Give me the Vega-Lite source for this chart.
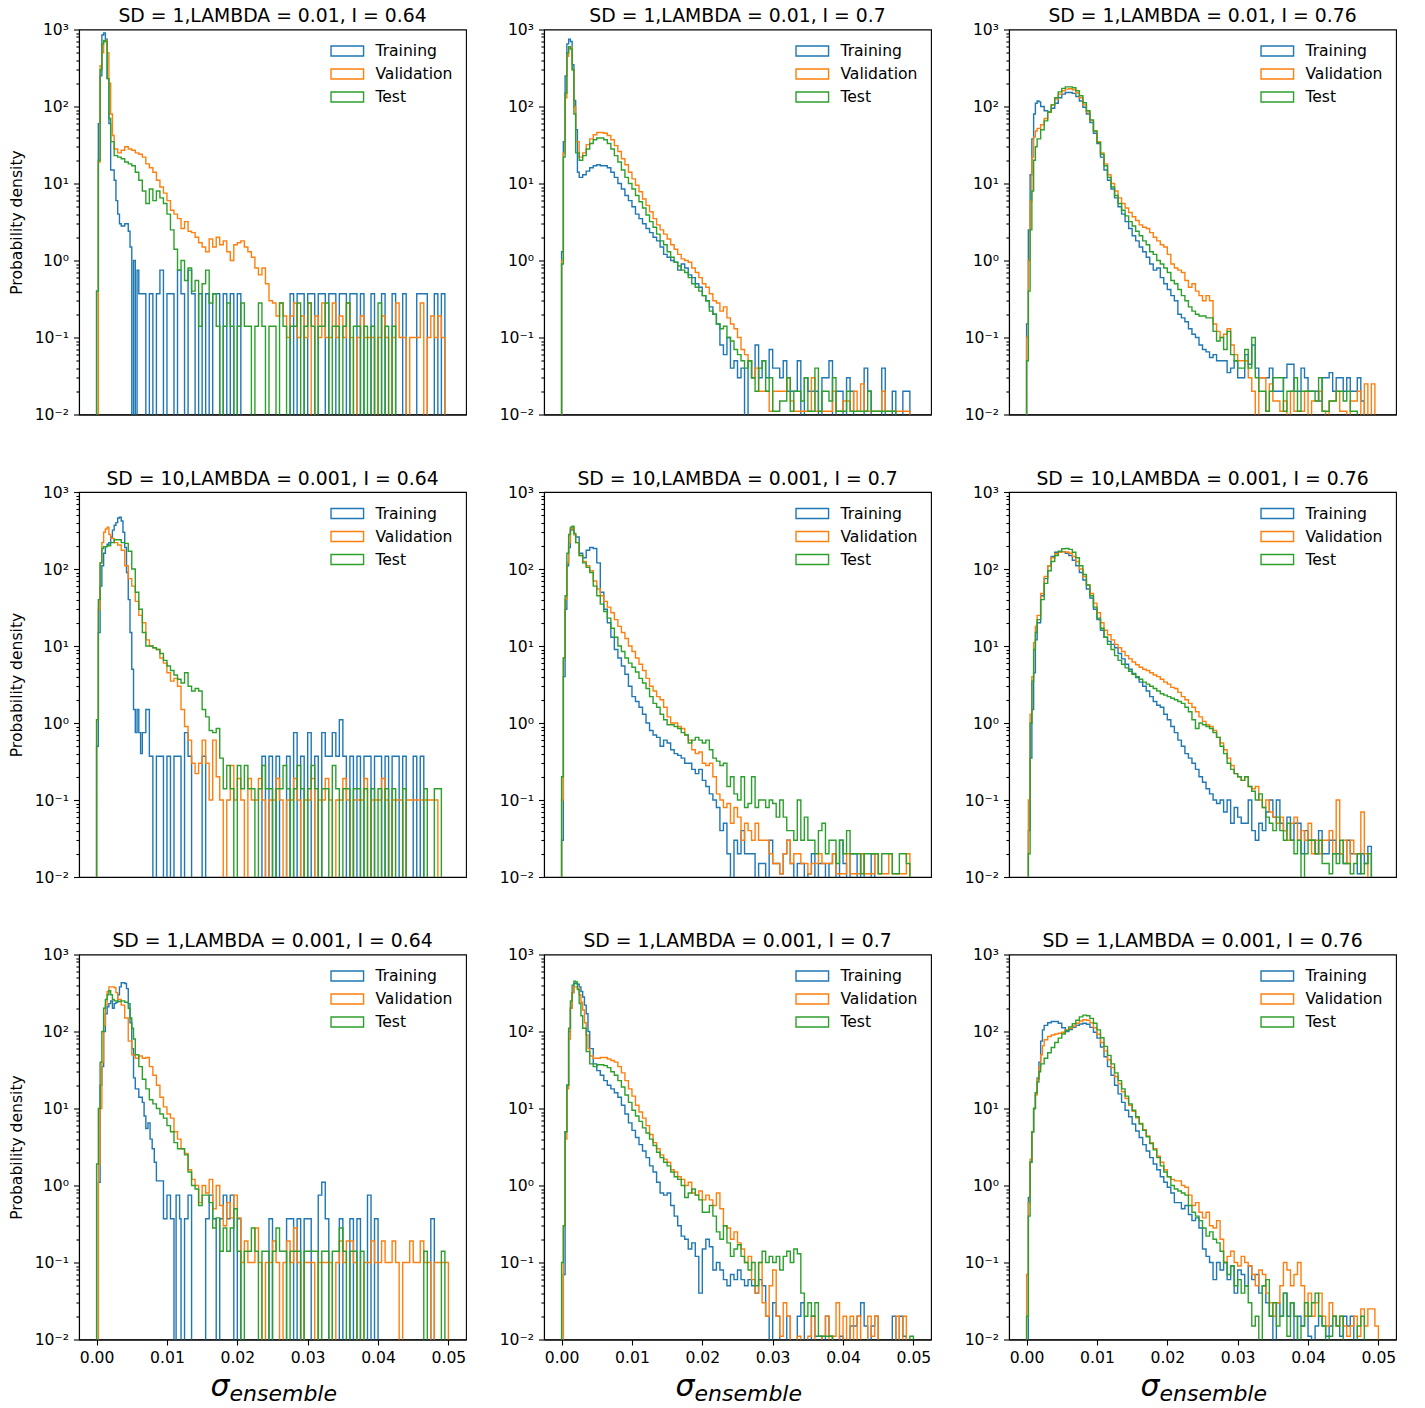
{
"$schema":"https://vega.github.io/schema/vega-lite/v6.json",
"padding":{"left":8,"top":6.5,"right":5,"bottom":5},
"columns":3,
"bounds":"flush",
"spacing":{"row":77.5,"column":78},
"resolve":{"scale":{"color":"independent","x":"independent","y":"independent"},"axis":{"x":"independent","y":"independent"},"legend":{"color":"independent"}},
"config":{
"font":"DejaVu Sans",
"view":{"stroke":"#000","strokeWidth":1.1},
"axis":{"grid":false,"domainColor":"#000","domainWidth":1.1,"tickColor":"#000","tickWidth":1.1,"labelColor":"#000","titleColor":"#000","labelFontSize":15.6,"titleFontSize":15.6,"titleFontWeight":"normal","labelFont":"DejaVu Sans","titleFont":"DejaVu Sans"},
"axisX":{"tickSize":5.5,"labelPadding":5},
"axisY":{"values":[0.01,0.02,0.03,0.04,0.05,0.06,0.07,0.08,0.09,0.1,0.2,0.3,0.4,0.5,0.6,0.7,0.8,0.9,1,2,3,4,5,6,7,8,9,10,20,30,40,50,60,70,80,90,100,200,300,400,500,600,700,800,900,1000],"labelExpr":"datum.value==1000?'10³':datum.value==100?'10²':datum.value==10?'10¹':datum.value==1?'10⁰':datum.value==0.1?'10⁻¹':datum.value==0.01?'10⁻²':''","tickSize":{"condition":{"test":"indexof([0.01,0.1,1,10,100,1000],datum.value)>=0","value":5.5},"value":3.1},"labelOverlap":false,"labelPadding":5,"titlePadding":10},
"title":{"fontSize":18.8,"fontWeight":"normal","offset":-3.5,"frame":"group","baseline":"alphabetic","color":"#000","font":"DejaVu Sans"},
"line":{"interpolate":"step-after","strokeWidth":1.4},
"legend":{"orient":"top-right","offset":13,"padding":0,"labelFontSize":15.6,"labelColor":"#000","labelFont":"DejaVu Sans","symbolSize":225,"symbolStrokeWidth":1.5,"symbolFillColor":"transparent","symbolOffset":19.8,"labelOffset":19.6,"rowPadding":5,"labelLimit":0}
},
"concat":[
{"title":"SD = 1,LAMBDA = 0.01, I = 0.64","width":387,"height":385,
"encoding":{"x":{"field":"x","type":"quantitative","scale":{"domain":[-0.0025,0.0525],"nice":false,"zero":false},"axis":{"labels":false,"ticks":false,"title":null}},"y":{"field":"y","type":"quantitative","scale":{"type":"log","domain":[0.01,1000],"nice":false},"axis":{"title":"Probability density"}}},
"layer":[
{"data":{"name":"d1t"},"mark":{"type":"line","clip":true},"encoding":{"color":{"datum":"Training","type":"nominal","scale":{"domain":["Training","Validation","Test"],"range":["#1f77b4","#ff7f0e","#2ca02c"]},"legend":{"title":null,"symbolType":"M-2.17,-0.67L2.17,-0.67L2.17,0.67L-2.17,0.67Z"}}}},
{"data":{"name":"d1v"},"mark":{"type":"line","clip":true},"encoding":{"color":{"datum":"Validation","type":"nominal"}}},
{"data":{"name":"d1e"},"mark":{"type":"line","clip":true},"encoding":{"color":{"datum":"Test","type":"nominal"}}}]},
{"title":"SD = 1,LAMBDA = 0.01, I = 0.7","width":387,"height":385,
"encoding":{"x":{"field":"x","type":"quantitative","scale":{"domain":[-0.0025,0.0525],"nice":false,"zero":false},"axis":{"labels":false,"ticks":false,"title":null}},"y":{"field":"y","type":"quantitative","scale":{"type":"log","domain":[0.01,1000],"nice":false},"axis":{"title":null}}},
"layer":[
{"data":{"name":"d2t"},"mark":{"type":"line","clip":true},"encoding":{"color":{"datum":"Training","type":"nominal","scale":{"domain":["Training","Validation","Test"],"range":["#1f77b4","#ff7f0e","#2ca02c"]},"legend":{"title":null,"symbolType":"M-2.17,-0.67L2.17,-0.67L2.17,0.67L-2.17,0.67Z"}}}},
{"data":{"name":"d2v"},"mark":{"type":"line","clip":true},"encoding":{"color":{"datum":"Validation","type":"nominal"}}},
{"data":{"name":"d2e"},"mark":{"type":"line","clip":true},"encoding":{"color":{"datum":"Test","type":"nominal"}}}]},
{"title":"SD = 1,LAMBDA = 0.01, I = 0.76","width":387,"height":385,
"encoding":{"x":{"field":"x","type":"quantitative","scale":{"domain":[-0.0025,0.0525],"nice":false,"zero":false},"axis":{"labels":false,"ticks":false,"title":null}},"y":{"field":"y","type":"quantitative","scale":{"type":"log","domain":[0.01,1000],"nice":false},"axis":{"title":null}}},
"layer":[
{"data":{"name":"d3t"},"mark":{"type":"line","clip":true},"encoding":{"color":{"datum":"Training","type":"nominal","scale":{"domain":["Training","Validation","Test"],"range":["#1f77b4","#ff7f0e","#2ca02c"]},"legend":{"title":null,"symbolType":"M-2.17,-0.67L2.17,-0.67L2.17,0.67L-2.17,0.67Z"}}}},
{"data":{"name":"d3v"},"mark":{"type":"line","clip":true},"encoding":{"color":{"datum":"Validation","type":"nominal"}}},
{"data":{"name":"d3e"},"mark":{"type":"line","clip":true},"encoding":{"color":{"datum":"Test","type":"nominal"}}}]},
{"title":"SD = 10,LAMBDA = 0.001, I = 0.64","width":387,"height":385,
"encoding":{"x":{"field":"x","type":"quantitative","scale":{"domain":[-0.0025,0.0525],"nice":false,"zero":false},"axis":{"labels":false,"ticks":false,"title":null}},"y":{"field":"y","type":"quantitative","scale":{"type":"log","domain":[0.01,1000],"nice":false},"axis":{"title":"Probability density"}}},
"layer":[
{"data":{"name":"d4t"},"mark":{"type":"line","clip":true},"encoding":{"color":{"datum":"Training","type":"nominal","scale":{"domain":["Training","Validation","Test"],"range":["#1f77b4","#ff7f0e","#2ca02c"]},"legend":{"title":null,"symbolType":"M-2.17,-0.67L2.17,-0.67L2.17,0.67L-2.17,0.67Z"}}}},
{"data":{"name":"d4v"},"mark":{"type":"line","clip":true},"encoding":{"color":{"datum":"Validation","type":"nominal"}}},
{"data":{"name":"d4e"},"mark":{"type":"line","clip":true},"encoding":{"color":{"datum":"Test","type":"nominal"}}}]},
{"title":"SD = 10,LAMBDA = 0.001, I = 0.7","width":387,"height":385,
"encoding":{"x":{"field":"x","type":"quantitative","scale":{"domain":[-0.0025,0.0525],"nice":false,"zero":false},"axis":{"labels":false,"ticks":false,"title":null}},"y":{"field":"y","type":"quantitative","scale":{"type":"log","domain":[0.01,1000],"nice":false},"axis":{"title":null}}},
"layer":[
{"data":{"name":"d5t"},"mark":{"type":"line","clip":true},"encoding":{"color":{"datum":"Training","type":"nominal","scale":{"domain":["Training","Validation","Test"],"range":["#1f77b4","#ff7f0e","#2ca02c"]},"legend":{"title":null,"symbolType":"M-2.17,-0.67L2.17,-0.67L2.17,0.67L-2.17,0.67Z"}}}},
{"data":{"name":"d5v"},"mark":{"type":"line","clip":true},"encoding":{"color":{"datum":"Validation","type":"nominal"}}},
{"data":{"name":"d5e"},"mark":{"type":"line","clip":true},"encoding":{"color":{"datum":"Test","type":"nominal"}}}]},
{"title":"SD = 10,LAMBDA = 0.001, I = 0.76","width":387,"height":385,
"encoding":{"x":{"field":"x","type":"quantitative","scale":{"domain":[-0.0025,0.0525],"nice":false,"zero":false},"axis":{"labels":false,"ticks":false,"title":null}},"y":{"field":"y","type":"quantitative","scale":{"type":"log","domain":[0.01,1000],"nice":false},"axis":{"title":null}}},
"layer":[
{"data":{"name":"d6t"},"mark":{"type":"line","clip":true},"encoding":{"color":{"datum":"Training","type":"nominal","scale":{"domain":["Training","Validation","Test"],"range":["#1f77b4","#ff7f0e","#2ca02c"]},"legend":{"title":null,"symbolType":"M-2.17,-0.67L2.17,-0.67L2.17,0.67L-2.17,0.67Z"}}}},
{"data":{"name":"d6v"},"mark":{"type":"line","clip":true},"encoding":{"color":{"datum":"Validation","type":"nominal"}}},
{"data":{"name":"d6e"},"mark":{"type":"line","clip":true},"encoding":{"color":{"datum":"Test","type":"nominal"}}}]},
{"title":"SD = 1,LAMBDA = 0.001, I = 0.64","width":387,"height":385,
"resolve":{"scale":{"x":"independent"},"axis":{"x":"independent"}},
"layer":[
{"encoding":{"x":{"field":"x","type":"quantitative","scale":{"domain":[-0.0025,0.0525],"nice":false,"zero":false},"axis":{"values":[0,0.01,0.02,0.03,0.04,0.05],"format":".2f","title":"σ","titleFontSize":30,"titleFontStyle":"italic","titleAlign":"left","titleBaseline":"alphabetic","titleAngle":0,"titleX":131,"titleY":56}},"y":{"field":"y","type":"quantitative","scale":{"type":"log","domain":[0.01,1000],"nice":false},"axis":{"title":"Probability density"}}},
"layer":[
{"data":{"name":"d7t"},"mark":{"type":"line","clip":true},"encoding":{"color":{"datum":"Training","type":"nominal","scale":{"domain":["Training","Validation","Test"],"range":["#1f77b4","#ff7f0e","#2ca02c"]},"legend":{"title":null,"symbolType":"M-2.17,-0.67L2.17,-0.67L2.17,0.67L-2.17,0.67Z"}}}},
{"data":{"name":"d7v"},"mark":{"type":"line","clip":true},"encoding":{"color":{"datum":"Validation","type":"nominal"}}},
{"data":{"name":"d7e"},"mark":{"type":"line","clip":true},"encoding":{"color":{"datum":"Test","type":"nominal"}}}]},
{"data":{"values":[{}]},"mark":{"type":"rule","opacity":0},"encoding":{"x":{"datum":0,"type":"quantitative","scale":{"domain":[-0.0025,0.0525],"nice":false,"zero":false},"axis":{"orient":"bottom","labels":false,"ticks":false,"domain":false,"title":"ensemble","titleFontSize":22,"titleFontStyle":"italic","titleAlign":"left","titleBaseline":"alphabetic","titleAngle":0,"titleX":150,"titleY":61}}}}]},
{"title":"SD = 1,LAMBDA = 0.001, I = 0.7","width":387,"height":385,
"resolve":{"scale":{"x":"independent"},"axis":{"x":"independent"}},
"layer":[
{"encoding":{"x":{"field":"x","type":"quantitative","scale":{"domain":[-0.0025,0.0525],"nice":false,"zero":false},"axis":{"values":[0,0.01,0.02,0.03,0.04,0.05],"format":".2f","title":"σ","titleFontSize":30,"titleFontStyle":"italic","titleAlign":"left","titleBaseline":"alphabetic","titleAngle":0,"titleX":131,"titleY":56}},"y":{"field":"y","type":"quantitative","scale":{"type":"log","domain":[0.01,1000],"nice":false},"axis":{"title":null}}},
"layer":[
{"data":{"name":"d8t"},"mark":{"type":"line","clip":true},"encoding":{"color":{"datum":"Training","type":"nominal","scale":{"domain":["Training","Validation","Test"],"range":["#1f77b4","#ff7f0e","#2ca02c"]},"legend":{"title":null,"symbolType":"M-2.17,-0.67L2.17,-0.67L2.17,0.67L-2.17,0.67Z"}}}},
{"data":{"name":"d8v"},"mark":{"type":"line","clip":true},"encoding":{"color":{"datum":"Validation","type":"nominal"}}},
{"data":{"name":"d8e"},"mark":{"type":"line","clip":true},"encoding":{"color":{"datum":"Test","type":"nominal"}}}]},
{"data":{"values":[{}]},"mark":{"type":"rule","opacity":0},"encoding":{"x":{"datum":0,"type":"quantitative","scale":{"domain":[-0.0025,0.0525],"nice":false,"zero":false},"axis":{"orient":"bottom","labels":false,"ticks":false,"domain":false,"title":"ensemble","titleFontSize":22,"titleFontStyle":"italic","titleAlign":"left","titleBaseline":"alphabetic","titleAngle":0,"titleX":150,"titleY":61}}}}]},
{"title":"SD = 1,LAMBDA = 0.001, I = 0.76","width":387,"height":385,
"resolve":{"scale":{"x":"independent"},"axis":{"x":"independent"}},
"layer":[
{"encoding":{"x":{"field":"x","type":"quantitative","scale":{"domain":[-0.0025,0.0525],"nice":false,"zero":false},"axis":{"values":[0,0.01,0.02,0.03,0.04,0.05],"format":".2f","title":"σ","titleFontSize":30,"titleFontStyle":"italic","titleAlign":"left","titleBaseline":"alphabetic","titleAngle":0,"titleX":131,"titleY":56}},"y":{"field":"y","type":"quantitative","scale":{"type":"log","domain":[0.01,1000],"nice":false},"axis":{"title":null}}},
"layer":[
{"data":{"name":"d9t"},"mark":{"type":"line","clip":true},"encoding":{"color":{"datum":"Training","type":"nominal","scale":{"domain":["Training","Validation","Test"],"range":["#1f77b4","#ff7f0e","#2ca02c"]},"legend":{"title":null,"symbolType":"M-2.17,-0.67L2.17,-0.67L2.17,0.67L-2.17,0.67Z"}}}},
{"data":{"name":"d9v"},"mark":{"type":"line","clip":true},"encoding":{"color":{"datum":"Validation","type":"nominal"}}},
{"data":{"name":"d9e"},"mark":{"type":"line","clip":true},"encoding":{"color":{"datum":"Test","type":"nominal"}}}]},
{"data":{"values":[{}]},"mark":{"type":"rule","opacity":0},"encoding":{"x":{"datum":0,"type":"quantitative","scale":{"domain":[-0.0025,0.0525],"nice":false,"zero":false},"axis":{"orient":"bottom","labels":false,"ticks":false,"domain":false,"title":"ensemble","titleFontSize":22,"titleFontStyle":"italic","titleAlign":"left","titleBaseline":"alphabetic","titleAngle":0,"titleX":150,"titleY":61}}}}]}
],
"datasets":{
"d1t":[{"x":-0.00025,"y":0.001},{"x":0,"y":0.4},{"x":0.00025,"y":60},{"x":0.0005,"y":250},{"x":0.00075,"y":850},{"x":0.001,"y":900},{"x":0.00125,"y":750},{"x":0.0015,"y":230},{"x":0.00175,"y":60},{"x":0.002,"y":15},{"x":0.0025,"y":11},{"x":0.00275,"y":6},{"x":0.003,"y":4},{"x":0.00325,"y":3},{"x":0.0035,"y":2.8},{"x":0.004,"y":3},{"x":0.0045,"y":2.4},{"x":0.00475,"y":1.5},{"x":0.005,"y":0.001},{"x":0.00525,"y":1},{"x":0.0055,"y":0.001},{"x":0.00575,"y":0.75},{"x":0.006,"y":0.37},{"x":0.007,"y":0.001},{"x":0.0075,"y":0.37},{"x":0.008,"y":0.001},{"x":0.0085,"y":0.37},{"x":0.009,"y":0.75},{"x":0.0095,"y":0.001},{"x":0.01,"y":0.37},{"x":0.011,"y":0.001},{"x":0.0115,"y":0.75},{"x":0.012,"y":0.37},{"x":0.0125,"y":0.001},{"x":0.013,"y":0.75},{"x":0.0135,"y":0.37},{"x":0.014,"y":0.001},{"x":0.0145,"y":0.37},{"x":0.015,"y":0.001},{"x":0.0155,"y":0.37},{"x":0.016,"y":0.001},{"x":0.0165,"y":0.37},{"x":0.0175,"y":0.001},{"x":0.018,"y":0.37},{"x":0.0185,"y":0.001},{"x":0.019,"y":0.37},{"x":0.0195,"y":0.001},{"x":0.02,"y":0.37},{"x":0.0205,"y":0.001},{"x":0.0275,"y":0.37},{"x":0.028,"y":0.001},{"x":0.0285,"y":0.37},{"x":0.0295,"y":0.001},{"x":0.03,"y":0.37},{"x":0.031,"y":0.001},{"x":0.0315,"y":0.37},{"x":0.0325,"y":0.001},{"x":0.033,"y":0.37},{"x":0.034,"y":0.001},{"x":0.0345,"y":0.37},{"x":0.0355,"y":0.001},{"x":0.036,"y":0.37},{"x":0.037,"y":0.001},{"x":0.0375,"y":0.37},{"x":0.038,"y":0.001},{"x":0.039,"y":0.37},{"x":0.0395,"y":0.001},{"x":0.0405,"y":0.37},{"x":0.041,"y":0.001},{"x":0.042,"y":0.37},{"x":0.0425,"y":0.001},{"x":0.0435,"y":0.37},{"x":0.044,"y":0.001},{"x":0.0455,"y":0.37},{"x":0.047,"y":0.001},{"x":0.048,"y":0.37},{"x":0.0485,"y":0.001},{"x":0.049,"y":0.37},{"x":0.0495,"y":0.001}],
"d1v":[{"x":0,"y":0.001},{"x":0.00025,"y":19},{"x":0.0005,"y":340},{"x":0.00075,"y":500},{"x":0.001,"y":700},{"x":0.00125,"y":720},{"x":0.0015,"y":500},{"x":0.00175,"y":200},{"x":0.002,"y":80},{"x":0.00225,"y":42},{"x":0.0025,"y":28},{"x":0.003,"y":25},{"x":0.0035,"y":27},{"x":0.004,"y":30},{"x":0.0045,"y":28},{"x":0.005,"y":27},{"x":0.0055,"y":25},{"x":0.006,"y":24},{"x":0.0065,"y":22},{"x":0.007,"y":18},{"x":0.0075,"y":16},{"x":0.008,"y":14},{"x":0.0085,"y":11},{"x":0.009,"y":9},{"x":0.0095,"y":7.5},{"x":0.01,"y":6},{"x":0.0105,"y":4.5},{"x":0.011,"y":4},{"x":0.0115,"y":3.5},{"x":0.012,"y":2.6},{"x":0.0125,"y":3.2},{"x":0.013,"y":2.4},{"x":0.0135,"y":2.3},{"x":0.014,"y":2},{"x":0.0145,"y":1.7},{"x":0.015,"y":1.5},{"x":0.0155,"y":1.3},{"x":0.016,"y":1.9},{"x":0.0165,"y":1.5},{"x":0.017,"y":2},{"x":0.0175,"y":1.6},{"x":0.018,"y":1.8},{"x":0.0185,"y":1.3},{"x":0.019,"y":1},{"x":0.0195,"y":1.6},{"x":0.02,"y":1.7},{"x":0.0205,"y":1.8},{"x":0.021,"y":1.5},{"x":0.0215,"y":1.3},{"x":0.022,"y":1.1},{"x":0.0225,"y":0.8},{"x":0.023,"y":0.65},{"x":0.0235,"y":0.8},{"x":0.024,"y":0.5},{"x":0.0245,"y":0.3},{"x":0.025,"y":0.28},{"x":0.0255,"y":0.19},{"x":0.026,"y":0.28},{"x":0.0265,"y":0.19},{"x":0.027,"y":0.1},{"x":0.0275,"y":0.19},{"x":0.028,"y":0.28},{"x":0.0285,"y":0.1},{"x":0.029,"y":0.19},{"x":0.0295,"y":0.1},{"x":0.03,"y":0.28},{"x":0.0305,"y":0.001},{"x":0.031,"y":0.19},{"x":0.0315,"y":0.1},{"x":0.032,"y":0.28},{"x":0.0325,"y":0.1},{"x":0.0335,"y":0.28},{"x":0.034,"y":0.1},{"x":0.0345,"y":0.19},{"x":0.035,"y":0.1},{"x":0.0355,"y":0.28},{"x":0.036,"y":0.1},{"x":0.0365,"y":0.001},{"x":0.037,"y":0.1},{"x":0.0375,"y":0.19},{"x":0.038,"y":0.1},{"x":0.0395,"y":0.001},{"x":0.04,"y":0.1},{"x":0.0405,"y":0.19},{"x":0.041,"y":0.1},{"x":0.0415,"y":0.001},{"x":0.042,"y":0.1},{"x":0.0425,"y":0.28},{"x":0.043,"y":0.1},{"x":0.044,"y":0.001},{"x":0.0445,"y":0.1},{"x":0.046,"y":0.28},{"x":0.0465,"y":0.001},{"x":0.047,"y":0.1},{"x":0.0475,"y":0.19},{"x":0.048,"y":0.1},{"x":0.0485,"y":0.19},{"x":0.049,"y":0.1},{"x":0.0495,"y":0.001}],
"d1e":[{"x":-0.00025,"y":0.001},{"x":0,"y":0.4},{"x":0.00025,"y":20},{"x":0.0005,"y":300},{"x":0.00075,"y":650},{"x":0.001,"y":720},{"x":0.00125,"y":700},{"x":0.0015,"y":230},{"x":0.00175,"y":70},{"x":0.002,"y":35},{"x":0.0025,"y":23},{"x":0.003,"y":22},{"x":0.0035,"y":21},{"x":0.004,"y":19},{"x":0.0045,"y":18},{"x":0.005,"y":17},{"x":0.0055,"y":14},{"x":0.006,"y":11},{"x":0.0065,"y":8},{"x":0.007,"y":5.5},{"x":0.0075,"y":8.5},{"x":0.008,"y":6},{"x":0.0085,"y":8},{"x":0.009,"y":6.5},{"x":0.0095,"y":5.5},{"x":0.01,"y":4},{"x":0.0105,"y":2.5},{"x":0.011,"y":1.4},{"x":0.0115,"y":0.75},{"x":0.012,"y":1},{"x":0.0125,"y":0.55},{"x":0.013,"y":0.8},{"x":0.0135,"y":0.4},{"x":0.014,"y":0.55},{"x":0.0145,"y":0.14},{"x":0.015,"y":0.5},{"x":0.0155,"y":0.75},{"x":0.016,"y":0.28},{"x":0.0165,"y":0.37},{"x":0.017,"y":0.14},{"x":0.0175,"y":0.001},{"x":0.018,"y":0.14},{"x":0.0185,"y":0.28},{"x":0.019,"y":0.14},{"x":0.0195,"y":0.001},{"x":0.02,"y":0.14},{"x":0.0205,"y":0.28},{"x":0.021,"y":0.14},{"x":0.022,"y":0.001},{"x":0.0225,"y":0.14},{"x":0.023,"y":0.28},{"x":0.0235,"y":0.14},{"x":0.024,"y":0.001},{"x":0.0245,"y":0.14},{"x":0.0255,"y":0.001},{"x":0.026,"y":0.28},{"x":0.0265,"y":0.14},{"x":0.027,"y":0.001},{"x":0.0275,"y":0.14},{"x":0.0285,"y":0.28},{"x":0.029,"y":0.001},{"x":0.0295,"y":0.14},{"x":0.03,"y":0.28},{"x":0.0305,"y":0.14},{"x":0.031,"y":0.001},{"x":0.0315,"y":0.14},{"x":0.0325,"y":0.28},{"x":0.033,"y":0.001},{"x":0.0335,"y":0.14},{"x":0.0345,"y":0.001},{"x":0.035,"y":0.14},{"x":0.0355,"y":0.28},{"x":0.036,"y":0.001},{"x":0.0365,"y":0.14},{"x":0.0375,"y":0.001},{"x":0.038,"y":0.14},{"x":0.0385,"y":0.001},{"x":0.039,"y":0.14},{"x":0.0395,"y":0.001},{"x":0.04,"y":0.28},{"x":0.0405,"y":0.001},{"x":0.041,"y":0.14},{"x":0.0415,"y":0.001},{"x":0.042,"y":0.14},{"x":0.0425,"y":0.001}],
"d2t":[{"x":-0.00025,"y":0.001},{"x":0,"y":1.3},{"x":0.00025,"y":35},{"x":0.0005,"y":250},{"x":0.00075,"y":650},{"x":0.001,"y":750},{"x":0.00125,"y":700},{"x":0.0015,"y":350},{"x":0.00175,"y":120},{"x":0.002,"y":50},{"x":0.00225,"y":14},{"x":0.0025,"y":12},{"x":0.003,"y":13},{"x":0.0035,"y":14.5},{"x":0.004,"y":16},{"x":0.0045,"y":17},{"x":0.005,"y":17.5},{"x":0.0055,"y":17},{"x":0.006,"y":17},{"x":0.0065,"y":16},{"x":0.007,"y":14},{"x":0.0075,"y":12},{"x":0.008,"y":10},{"x":0.0085,"y":8.5},{"x":0.009,"y":7},{"x":0.0095,"y":6},{"x":0.01,"y":5},{"x":0.0105,"y":4},{"x":0.011,"y":3.5},{"x":0.0115,"y":3},{"x":0.012,"y":2.6},{"x":0.0125,"y":2.3},{"x":0.013,"y":2},{"x":0.0135,"y":1.8},{"x":0.014,"y":1.5},{"x":0.0145,"y":1.2},{"x":0.015,"y":1.1},{"x":0.0155,"y":1},{"x":0.016,"y":0.95},{"x":0.0165,"y":0.75},{"x":0.017,"y":0.9},{"x":0.0175,"y":0.8},{"x":0.018,"y":0.65},{"x":0.0185,"y":0.6},{"x":0.019,"y":0.5},{"x":0.0195,"y":0.45},{"x":0.02,"y":0.35},{"x":0.0205,"y":0.3},{"x":0.021,"y":0.25},{"x":0.0215,"y":0.2},{"x":0.022,"y":0.15},{"x":0.0225,"y":0.08},{"x":0.023,"y":0.06},{"x":0.0235,"y":0.1},{"x":0.024,"y":0.04},{"x":0.0245,"y":0.05},{"x":0.025,"y":0.03},{"x":0.0255,"y":0.04},{"x":0.026,"y":0.001},{"x":0.0265,"y":0.05},{"x":0.027,"y":0.03},{"x":0.0275,"y":0.08},{"x":0.028,"y":0.03},{"x":0.0285,"y":0.05},{"x":0.029,"y":0.03},{"x":0.0295,"y":0.07},{"x":0.03,"y":0.04},{"x":0.031,"y":0.03},{"x":0.0315,"y":0.05},{"x":0.032,"y":0.02},{"x":0.033,"y":0.02},{"x":0.0335,"y":0.05},{"x":0.034,"y":0.001},{"x":0.0345,"y":0.03},{"x":0.035,"y":0.02},{"x":0.036,"y":0.02},{"x":0.0365,"y":0.001},{"x":0.037,"y":0.03},{"x":0.038,"y":0.05},{"x":0.0385,"y":0.001},{"x":0.039,"y":0.02},{"x":0.04,"y":0.001},{"x":0.0405,"y":0.03},{"x":0.041,"y":0.02},{"x":0.0415,"y":0.001},{"x":0.043,"y":0.04},{"x":0.0435,"y":0.02},{"x":0.044,"y":0.001},{"x":0.0455,"y":0.04},{"x":0.046,"y":0.001},{"x":0.047,"y":0.02},{"x":0.0475,"y":0.001},{"x":0.0485,"y":0.02},{"x":0.0495,"y":0.001}],
"d2v":[{"x":-0.00025,"y":0.001},{"x":0,"y":1},{"x":0.00025,"y":25},{"x":0.0005,"y":130},{"x":0.00075,"y":450},{"x":0.001,"y":560},{"x":0.00125,"y":580},{"x":0.0015,"y":300},{"x":0.00175,"y":100},{"x":0.002,"y":35},{"x":0.0025,"y":22},{"x":0.003,"y":25},{"x":0.0035,"y":32},{"x":0.004,"y":38},{"x":0.0045,"y":43},{"x":0.005,"y":46},{"x":0.0055,"y":46},{"x":0.006,"y":45},{"x":0.0065,"y":42},{"x":0.007,"y":37},{"x":0.0075,"y":31},{"x":0.008,"y":26},{"x":0.0085,"y":21},{"x":0.009,"y":17.5},{"x":0.0095,"y":14},{"x":0.01,"y":11.5},{"x":0.0105,"y":9.5},{"x":0.011,"y":7.8},{"x":0.0115,"y":6.3},{"x":0.012,"y":5.2},{"x":0.0125,"y":4.3},{"x":0.013,"y":3.5},{"x":0.0135,"y":2.9},{"x":0.014,"y":2.5},{"x":0.0145,"y":2.2},{"x":0.015,"y":1.9},{"x":0.0155,"y":1.6},{"x":0.016,"y":1.4},{"x":0.0165,"y":1.2},{"x":0.017,"y":1.05},{"x":0.0175,"y":1},{"x":0.018,"y":0.95},{"x":0.0185,"y":0.8},{"x":0.019,"y":0.7},{"x":0.0195,"y":0.6},{"x":0.02,"y":0.5},{"x":0.0205,"y":0.45},{"x":0.021,"y":0.37},{"x":0.0215,"y":0.3},{"x":0.022,"y":0.28},{"x":0.0225,"y":0.22},{"x":0.023,"y":0.25},{"x":0.0235,"y":0.18},{"x":0.024,"y":0.15},{"x":0.0245,"y":0.13},{"x":0.025,"y":0.1},{"x":0.0255,"y":0.07},{"x":0.026,"y":0.06},{"x":0.0265,"y":0.05},{"x":0.027,"y":0.03},{"x":0.0275,"y":0.04},{"x":0.028,"y":0.02},{"x":0.029,"y":0.02},{"x":0.0295,"y":0.011},{"x":0.03,"y":0.02},{"x":0.031,"y":0.02},{"x":0.032,"y":0.03},{"x":0.0325,"y":0.015},{"x":0.033,"y":0.011},{"x":0.0355,"y":0.03},{"x":0.036,"y":0.011},{"x":0.0385,"y":0.02},{"x":0.039,"y":0.011},{"x":0.04,"y":0.015},{"x":0.041,"y":0.011},{"x":0.0415,"y":0.02},{"x":0.042,"y":0.011},{"x":0.0425,"y":0.025},{"x":0.043,"y":0.011},{"x":0.0455,"y":0.02},{"x":0.046,"y":0.011},{"x":0.0495,"y":0.001}],
"d2e":[{"x":-0.00025,"y":0.001},{"x":0,"y":0.9},{"x":0.00025,"y":22},{"x":0.0005,"y":150},{"x":0.00075,"y":500},{"x":0.001,"y":600},{"x":0.00125,"y":560},{"x":0.0015,"y":300},{"x":0.00175,"y":80},{"x":0.002,"y":25},{"x":0.0025,"y":20},{"x":0.003,"y":23},{"x":0.0035,"y":28},{"x":0.004,"y":33},{"x":0.0045,"y":37},{"x":0.005,"y":39},{"x":0.0055,"y":39},{"x":0.006,"y":37},{"x":0.0065,"y":33},{"x":0.007,"y":28},{"x":0.0075,"y":23},{"x":0.008,"y":19},{"x":0.0085,"y":15},{"x":0.009,"y":12},{"x":0.0095,"y":10},{"x":0.01,"y":8.5},{"x":0.0105,"y":7},{"x":0.011,"y":5.8},{"x":0.0115,"y":4.8},{"x":0.012,"y":3.9},{"x":0.0125,"y":3.2},{"x":0.013,"y":2.7},{"x":0.0135,"y":2.2},{"x":0.014,"y":1.8},{"x":0.0145,"y":1.6},{"x":0.015,"y":1.3},{"x":0.0155,"y":1.1},{"x":0.016,"y":0.95},{"x":0.0165,"y":0.85},{"x":0.017,"y":0.75},{"x":0.0175,"y":0.7},{"x":0.018,"y":0.6},{"x":0.0185,"y":0.5},{"x":0.019,"y":0.45},{"x":0.0195,"y":0.4},{"x":0.02,"y":0.35},{"x":0.0205,"y":0.3},{"x":0.021,"y":0.22},{"x":0.0215,"y":0.2},{"x":0.022,"y":0.15},{"x":0.0225,"y":0.13},{"x":0.023,"y":0.14},{"x":0.0235,"y":0.1},{"x":0.024,"y":0.09},{"x":0.0245,"y":0.07},{"x":0.025,"y":0.06},{"x":0.0255,"y":0.05},{"x":0.026,"y":0.04},{"x":0.0265,"y":0.05},{"x":0.027,"y":0.03},{"x":0.0275,"y":0.02},{"x":0.028,"y":0.04},{"x":0.0285,"y":0.05},{"x":0.029,"y":0.02},{"x":0.0295,"y":0.03},{"x":0.03,"y":0.011},{"x":0.031,"y":0.015},{"x":0.032,"y":0.03},{"x":0.0325,"y":0.011},{"x":0.033,"y":0.02},{"x":0.034,"y":0.015},{"x":0.0345,"y":0.03},{"x":0.035,"y":0.011},{"x":0.036,"y":0.04},{"x":0.0365,"y":0.011},{"x":0.037,"y":0.02},{"x":0.038,"y":0.015},{"x":0.0385,"y":0.03},{"x":0.039,"y":0.011},{"x":0.0405,"y":0.02},{"x":0.041,"y":0.011},{"x":0.0435,"y":0.02},{"x":0.044,"y":0.011},{"x":0.0475,"y":0.001}],
"d3t":[{"x":-0.00025,"y":0.001},{"x":0,"y":0.15},{"x":0.00025,"y":2.5},{"x":0.0005,"y":13},{"x":0.00075,"y":38},{"x":0.001,"y":80},{"x":0.00125,"y":110},{"x":0.0015,"y":118},{"x":0.00175,"y":115},{"x":0.002,"y":100},{"x":0.0025,"y":88},{"x":0.003,"y":85},{"x":0.0035,"y":95},{"x":0.004,"y":110},{"x":0.0045,"y":130},{"x":0.005,"y":145},{"x":0.0055,"y":152},{"x":0.006,"y":152},{"x":0.0065,"y":148},{"x":0.007,"y":135},{"x":0.0075,"y":118},{"x":0.008,"y":98},{"x":0.0085,"y":80},{"x":0.009,"y":62},{"x":0.0095,"y":45},{"x":0.01,"y":33},{"x":0.0105,"y":22},{"x":0.011,"y":15},{"x":0.0115,"y":11},{"x":0.012,"y":8.5},{"x":0.0125,"y":6.5},{"x":0.013,"y":5},{"x":0.0135,"y":4},{"x":0.014,"y":3.2},{"x":0.0145,"y":2.6},{"x":0.015,"y":2.1},{"x":0.0155,"y":1.8},{"x":0.016,"y":1.5},{"x":0.0165,"y":1.3},{"x":0.017,"y":1.1},{"x":0.0175,"y":0.9},{"x":0.018,"y":0.75},{"x":0.0185,"y":0.8},{"x":0.019,"y":0.6},{"x":0.0195,"y":0.5},{"x":0.02,"y":0.42},{"x":0.0205,"y":0.35},{"x":0.021,"y":0.3},{"x":0.0215,"y":0.2},{"x":0.022,"y":0.18},{"x":0.0225,"y":0.16},{"x":0.023,"y":0.13},{"x":0.0235,"y":0.11},{"x":0.024,"y":0.1},{"x":0.0245,"y":0.08},{"x":0.025,"y":0.07},{"x":0.0255,"y":0.065},{"x":0.026,"y":0.055},{"x":0.0265,"y":0.06},{"x":0.027,"y":0.05},{"x":0.028,"y":0.05},{"x":0.0285,"y":0.035},{"x":0.029,"y":0.04},{"x":0.0295,"y":0.05},{"x":0.03,"y":0.03},{"x":0.031,"y":0.06},{"x":0.0315,"y":0.045},{"x":0.032,"y":0.08},{"x":0.0325,"y":0.04},{"x":0.033,"y":0.03},{"x":0.034,"y":0.03},{"x":0.0345,"y":0.04},{"x":0.035,"y":0.02},{"x":0.036,"y":0.02},{"x":0.0365,"y":0.03},{"x":0.037,"y":0.045},{"x":0.038,"y":0.02},{"x":0.039,"y":0.04},{"x":0.0395,"y":0.03},{"x":0.04,"y":0.02},{"x":0.0415,"y":0.015},{"x":0.042,"y":0.03},{"x":0.043,"y":0.035},{"x":0.0435,"y":0.02},{"x":0.044,"y":0.03},{"x":0.045,"y":0.02},{"x":0.0455,"y":0.03},{"x":0.046,"y":0.02},{"x":0.047,"y":0.03},{"x":0.0475,"y":0.015},{"x":0.048,"y":0.001}],
"d3v":[{"x":-0.00025,"y":0.001},{"x":0,"y":0.1},{"x":0.00025,"y":1},{"x":0.0005,"y":6},{"x":0.00075,"y":22},{"x":0.001,"y":40},{"x":0.00125,"y":48},{"x":0.0015,"y":52},{"x":0.002,"y":58},{"x":0.0025,"y":70},{"x":0.003,"y":85},{"x":0.0035,"y":105},{"x":0.004,"y":125},{"x":0.0045,"y":145},{"x":0.005,"y":160},{"x":0.0055,"y":168},{"x":0.006,"y":170},{"x":0.0065,"y":165},{"x":0.007,"y":150},{"x":0.0075,"y":130},{"x":0.008,"y":105},{"x":0.0085,"y":85},{"x":0.009,"y":66},{"x":0.0095,"y":48},{"x":0.01,"y":35},{"x":0.0105,"y":25},{"x":0.011,"y":18},{"x":0.0115,"y":13},{"x":0.012,"y":10},{"x":0.0125,"y":8},{"x":0.013,"y":6.5},{"x":0.0135,"y":5.5},{"x":0.014,"y":4.8},{"x":0.0145,"y":4.2},{"x":0.015,"y":3.7},{"x":0.0155,"y":3.3},{"x":0.016,"y":2.9},{"x":0.0165,"y":2.7},{"x":0.017,"y":2.6},{"x":0.0175,"y":2.3},{"x":0.018,"y":2},{"x":0.0185,"y":1.8},{"x":0.019,"y":1.6},{"x":0.0195,"y":1.5},{"x":0.02,"y":1.2},{"x":0.0205,"y":0.9},{"x":0.021,"y":0.8},{"x":0.0215,"y":0.75},{"x":0.022,"y":0.7},{"x":0.0225,"y":0.55},{"x":0.023,"y":0.45},{"x":0.0235,"y":0.5},{"x":0.024,"y":0.4},{"x":0.0245,"y":0.35},{"x":0.025,"y":0.3},{"x":0.0255,"y":0.35},{"x":0.026,"y":0.3},{"x":0.0265,"y":0.15},{"x":0.027,"y":0.12},{"x":0.0275,"y":0.1},{"x":0.028,"y":0.11},{"x":0.0285,"y":0.13},{"x":0.029,"y":0.08},{"x":0.0295,"y":0.06},{"x":0.03,"y":0.05},{"x":0.031,"y":0.05},{"x":0.0315,"y":0.03},{"x":0.032,"y":0.02},{"x":0.0325,"y":0.001},{"x":0.033,"y":0.03},{"x":0.034,"y":0.011},{"x":0.0345,"y":0.025},{"x":0.035,"y":0.015},{"x":0.036,"y":0.011},{"x":0.0365,"y":0.015},{"x":0.037,"y":0.001},{"x":0.0375,"y":0.02},{"x":0.038,"y":0.011},{"x":0.0395,"y":0.02},{"x":0.04,"y":0.001},{"x":0.0405,"y":0.015},{"x":0.0415,"y":0.02},{"x":0.042,"y":0.011},{"x":0.0425,"y":0.001},{"x":0.043,"y":0.015},{"x":0.044,"y":0.02},{"x":0.0445,"y":0.011},{"x":0.0455,"y":0.001},{"x":0.046,"y":0.015},{"x":0.047,"y":0.02},{"x":0.0475,"y":0.001},{"x":0.048,"y":0.025},{"x":0.0485,"y":0.001},{"x":0.049,"y":0.025},{"x":0.0495,"y":0.001}],
"d3e":[{"x":-0.00025,"y":0.001},{"x":0,"y":0.05},{"x":0.00025,"y":0.4},{"x":0.0005,"y":2.5},{"x":0.00075,"y":8},{"x":0.001,"y":20},{"x":0.00125,"y":30},{"x":0.0015,"y":38},{"x":0.002,"y":50},{"x":0.0025,"y":65},{"x":0.003,"y":85},{"x":0.0035,"y":105},{"x":0.004,"y":130},{"x":0.0045,"y":155},{"x":0.005,"y":172},{"x":0.0055,"y":180},{"x":0.006,"y":180},{"x":0.0065,"y":175},{"x":0.007,"y":160},{"x":0.0075,"y":138},{"x":0.008,"y":112},{"x":0.0085,"y":88},{"x":0.009,"y":67},{"x":0.0095,"y":48},{"x":0.01,"y":34},{"x":0.0105,"y":24},{"x":0.011,"y":17},{"x":0.0115,"y":12},{"x":0.012,"y":9},{"x":0.0125,"y":7},{"x":0.013,"y":5.5},{"x":0.0135,"y":4.5},{"x":0.014,"y":3.8},{"x":0.0145,"y":3.2},{"x":0.015,"y":2.8},{"x":0.0155,"y":2.4},{"x":0.016,"y":2.1},{"x":0.0165,"y":1.8},{"x":0.017,"y":1.6},{"x":0.0175,"y":1.3},{"x":0.018,"y":1.2},{"x":0.0185,"y":1},{"x":0.019,"y":0.9},{"x":0.0195,"y":0.8},{"x":0.02,"y":0.7},{"x":0.0205,"y":0.55},{"x":0.021,"y":0.5},{"x":0.0215,"y":0.42},{"x":0.022,"y":0.35},{"x":0.0225,"y":0.3},{"x":0.023,"y":0.25},{"x":0.0235,"y":0.22},{"x":0.024,"y":0.2},{"x":0.0245,"y":0.19},{"x":0.025,"y":0.19},{"x":0.0255,"y":0.18},{"x":0.026,"y":0.18},{"x":0.0265,"y":0.12},{"x":0.027,"y":0.09},{"x":0.0275,"y":0.1},{"x":0.028,"y":0.07},{"x":0.0285,"y":0.12},{"x":0.029,"y":0.06},{"x":0.0295,"y":0.05},{"x":0.03,"y":0.04},{"x":0.031,"y":0.07},{"x":0.0315,"y":0.04},{"x":0.032,"y":0.1},{"x":0.0325,"y":0.03},{"x":0.033,"y":0.02},{"x":0.034,"y":0.011},{"x":0.0345,"y":0.02},{"x":0.035,"y":0.03},{"x":0.036,"y":0.03},{"x":0.0365,"y":0.011},{"x":0.037,"y":0.02},{"x":0.038,"y":0.03},{"x":0.0385,"y":0.011},{"x":0.039,"y":0.02},{"x":0.041,"y":0.015},{"x":0.0415,"y":0.03},{"x":0.042,"y":0.011},{"x":0.043,"y":0.015},{"x":0.044,"y":0.02},{"x":0.045,"y":0.015},{"x":0.0455,"y":0.02},{"x":0.046,"y":0.011},{"x":0.047,"y":0.001}],
"d4t":[{"x":-0.00025,"y":0.001},{"x":0,"y":0.5},{"x":0.00025,"y":15},{"x":0.0005,"y":60},{"x":0.00075,"y":110},{"x":0.001,"y":160},{"x":0.00125,"y":195},{"x":0.0015,"y":210},{"x":0.00175,"y":220},{"x":0.002,"y":260},{"x":0.00225,"y":320},{"x":0.0025,"y":370},{"x":0.00275,"y":400},{"x":0.003,"y":460},{"x":0.00325,"y":470},{"x":0.0035,"y":420},{"x":0.00375,"y":300},{"x":0.004,"y":190},{"x":0.00425,"y":90},{"x":0.0045,"y":40},{"x":0.00475,"y":15},{"x":0.005,"y":5},{"x":0.00525,"y":1.5},{"x":0.0055,"y":0.75},{"x":0.00575,"y":1.5},{"x":0.006,"y":0.75},{"x":0.00625,"y":0.4},{"x":0.0065,"y":0.75},{"x":0.007,"y":1.5},{"x":0.0075,"y":0.37},{"x":0.008,"y":0.001},{"x":0.0085,"y":0.37},{"x":0.0095,"y":0.001},{"x":0.01,"y":0.37},{"x":0.0105,"y":0.001},{"x":0.011,"y":0.37},{"x":0.012,"y":0.001},{"x":0.0125,"y":0.75},{"x":0.013,"y":0.37},{"x":0.0135,"y":0.001},{"x":0.015,"y":0.37},{"x":0.0155,"y":0.001},{"x":0.0235,"y":0.37},{"x":0.024,"y":0.001},{"x":0.0245,"y":0.37},{"x":0.025,"y":0.001},{"x":0.0255,"y":0.37},{"x":0.026,"y":0.001},{"x":0.027,"y":0.37},{"x":0.0275,"y":0.001},{"x":0.028,"y":0.75},{"x":0.0285,"y":0.001},{"x":0.029,"y":0.37},{"x":0.0295,"y":0.001},{"x":0.03,"y":0.75},{"x":0.0305,"y":0.001},{"x":0.031,"y":0.37},{"x":0.0315,"y":0.001},{"x":0.032,"y":0.75},{"x":0.0325,"y":0.37},{"x":0.0335,"y":0.75},{"x":0.034,"y":0.37},{"x":0.0345,"y":1.1},{"x":0.035,"y":0.37},{"x":0.0355,"y":0.001},{"x":0.036,"y":0.37},{"x":0.0365,"y":0.001},{"x":0.037,"y":0.37},{"x":0.0375,"y":0.001},{"x":0.038,"y":0.37},{"x":0.039,"y":0.001},{"x":0.0395,"y":0.37},{"x":0.0405,"y":0.001},{"x":0.041,"y":0.37},{"x":0.0415,"y":0.001},{"x":0.042,"y":0.37},{"x":0.043,"y":0.001},{"x":0.0435,"y":0.37},{"x":0.044,"y":0.001},{"x":0.045,"y":0.37},{"x":0.0455,"y":0.001},{"x":0.046,"y":0.37},{"x":0.0465,"y":0.001}],
"d4v":[{"x":-0.00025,"y":0.001},{"x":0,"y":1.1},{"x":0.00025,"y":30},{"x":0.0005,"y":120},{"x":0.00075,"y":220},{"x":0.001,"y":300},{"x":0.00125,"y":330},{"x":0.0015,"y":350},{"x":0.00175,"y":280},{"x":0.002,"y":250},{"x":0.0025,"y":220},{"x":0.003,"y":205},{"x":0.0035,"y":175},{"x":0.004,"y":110},{"x":0.0045,"y":75},{"x":0.005,"y":60},{"x":0.0055,"y":38},{"x":0.006,"y":25},{"x":0.0065,"y":20},{"x":0.007,"y":12},{"x":0.0075,"y":10},{"x":0.008,"y":9.5},{"x":0.0085,"y":9},{"x":0.009,"y":7},{"x":0.0095,"y":6},{"x":0.01,"y":4.5},{"x":0.0105,"y":3.5},{"x":0.011,"y":3.8},{"x":0.0115,"y":3},{"x":0.012,"y":1.5},{"x":0.0125,"y":0.9},{"x":0.013,"y":0.6},{"x":0.0135,"y":0.3},{"x":0.014,"y":0.22},{"x":0.0145,"y":0.3},{"x":0.015,"y":0.6},{"x":0.0155,"y":0.3},{"x":0.016,"y":0.1},{"x":0.0165,"y":0.6},{"x":0.017,"y":0.2},{"x":0.0175,"y":0.1},{"x":0.018,"y":0.001},{"x":0.0185,"y":0.1},{"x":0.019,"y":0.28},{"x":0.0195,"y":0.1},{"x":0.02,"y":0.19},{"x":0.0205,"y":0.1},{"x":0.021,"y":0.001},{"x":0.0215,"y":0.19},{"x":0.022,"y":0.1},{"x":0.023,"y":0.19},{"x":0.0235,"y":0.1},{"x":0.024,"y":0.001},{"x":0.0245,"y":0.1},{"x":0.0255,"y":0.19},{"x":0.026,"y":0.1},{"x":0.0265,"y":0.001},{"x":0.027,"y":0.1},{"x":0.028,"y":0.19},{"x":0.0285,"y":0.1},{"x":0.029,"y":0.001},{"x":0.0295,"y":0.1},{"x":0.0305,"y":0.19},{"x":0.031,"y":0.001},{"x":0.0315,"y":0.1},{"x":0.0325,"y":0.19},{"x":0.033,"y":0.1},{"x":0.0335,"y":0.001},{"x":0.034,"y":0.1},{"x":0.035,"y":0.19},{"x":0.0355,"y":0.1},{"x":0.036,"y":0.001},{"x":0.0365,"y":0.1},{"x":0.038,"y":0.19},{"x":0.0385,"y":0.001},{"x":0.039,"y":0.1},{"x":0.0405,"y":0.19},{"x":0.041,"y":0.1},{"x":0.0415,"y":0.001},{"x":0.042,"y":0.1},{"x":0.0435,"y":0.001},{"x":0.044,"y":0.1},{"x":0.0485,"y":0.001}],
"d4e":[{"x":-0.00025,"y":0.001},{"x":0,"y":1.1},{"x":0.00025,"y":40},{"x":0.0005,"y":120},{"x":0.00075,"y":185},{"x":0.001,"y":195},{"x":0.0015,"y":200},{"x":0.002,"y":220},{"x":0.0025,"y":240},{"x":0.003,"y":240},{"x":0.0035,"y":220},{"x":0.004,"y":215},{"x":0.0045,"y":170},{"x":0.005,"y":100},{"x":0.0055,"y":50},{"x":0.006,"y":30},{"x":0.0065,"y":15},{"x":0.007,"y":10},{"x":0.0075,"y":10},{"x":0.008,"y":9.5},{"x":0.0085,"y":9},{"x":0.009,"y":8},{"x":0.0095,"y":6.5},{"x":0.01,"y":5.5},{"x":0.0105,"y":4.8},{"x":0.011,"y":4.2},{"x":0.0115,"y":3.7},{"x":0.012,"y":3.3},{"x":0.0125,"y":4.5},{"x":0.013,"y":3},{"x":0.0135,"y":2.6},{"x":0.014,"y":2.8},{"x":0.0145,"y":2.6},{"x":0.015,"y":1.5},{"x":0.0155,"y":1.2},{"x":0.016,"y":0.8},{"x":0.0165,"y":0.75},{"x":0.017,"y":0.85},{"x":0.0175,"y":0.35},{"x":0.018,"y":0.14},{"x":0.0185,"y":0.28},{"x":0.019,"y":0.14},{"x":0.0195,"y":0.001},{"x":0.02,"y":0.28},{"x":0.0205,"y":0.14},{"x":0.021,"y":0.28},{"x":0.0215,"y":0.14},{"x":0.0225,"y":0.001},{"x":0.023,"y":0.14},{"x":0.0235,"y":0.28},{"x":0.024,"y":0.14},{"x":0.025,"y":0.001},{"x":0.0255,"y":0.14},{"x":0.0265,"y":0.28},{"x":0.027,"y":0.14},{"x":0.0275,"y":0.001},{"x":0.028,"y":0.14},{"x":0.0285,"y":0.28},{"x":0.029,"y":0.14},{"x":0.0295,"y":0.001},{"x":0.03,"y":0.14},{"x":0.0305,"y":0.28},{"x":0.031,"y":0.14},{"x":0.0315,"y":0.001},{"x":0.032,"y":0.14},{"x":0.033,"y":0.001},{"x":0.0335,"y":0.28},{"x":0.034,"y":0.14},{"x":0.0345,"y":0.001},{"x":0.035,"y":0.14},{"x":0.036,"y":0.001},{"x":0.0365,"y":0.14},{"x":0.0375,"y":0.001},{"x":0.038,"y":0.14},{"x":0.0385,"y":0.001},{"x":0.039,"y":0.14},{"x":0.0395,"y":0.001},{"x":0.04,"y":0.14},{"x":0.0405,"y":0.001},{"x":0.041,"y":0.14},{"x":0.0415,"y":0.001},{"x":0.042,"y":0.14},{"x":0.0425,"y":0.001},{"x":0.0435,"y":0.14},{"x":0.044,"y":0.001},{"x":0.0465,"y":0.14},{"x":0.047,"y":0.001},{"x":0.048,"y":0.14},{"x":0.049,"y":0.001}],
"d5t":[{"x":-0.00025,"y":0.001},{"x":0,"y":0.03},{"x":0.00025,"y":4},{"x":0.0005,"y":30},{"x":0.00075,"y":110},{"x":0.001,"y":190},{"x":0.00125,"y":320},{"x":0.0015,"y":330},{"x":0.00175,"y":280},{"x":0.002,"y":260},{"x":0.0025,"y":160},{"x":0.003,"y":140},{"x":0.0035,"y":175},{"x":0.004,"y":190},{"x":0.0045,"y":185},{"x":0.005,"y":120},{"x":0.0055,"y":50},{"x":0.006,"y":30},{"x":0.0065,"y":20},{"x":0.007,"y":13},{"x":0.0075,"y":9},{"x":0.008,"y":7},{"x":0.0085,"y":5.5},{"x":0.009,"y":4.3},{"x":0.0095,"y":3},{"x":0.01,"y":2.2},{"x":0.0105,"y":1.9},{"x":0.011,"y":1.6},{"x":0.0115,"y":1.3},{"x":0.012,"y":1},{"x":0.0125,"y":0.8},{"x":0.013,"y":0.7},{"x":0.0135,"y":0.65},{"x":0.014,"y":0.5},{"x":0.0145,"y":0.6},{"x":0.015,"y":0.55},{"x":0.0155,"y":0.45},{"x":0.016,"y":0.4},{"x":0.0165,"y":0.38},{"x":0.017,"y":0.35},{"x":0.0175,"y":0.3},{"x":0.018,"y":0.3},{"x":0.0185,"y":0.25},{"x":0.019,"y":0.22},{"x":0.0195,"y":0.25},{"x":0.02,"y":0.18},{"x":0.0205,"y":0.15},{"x":0.021,"y":0.12},{"x":0.0215,"y":0.1},{"x":0.022,"y":0.08},{"x":0.0225,"y":0.04},{"x":0.023,"y":0.05},{"x":0.0235,"y":0.02},{"x":0.024,"y":0.001},{"x":0.0245,"y":0.03},{"x":0.025,"y":0.02},{"x":0.0255,"y":0.04},{"x":0.026,"y":0.02},{"x":0.0275,"y":0.001},{"x":0.028,"y":0.015},{"x":0.029,"y":0.001},{"x":0.0295,"y":0.03},{"x":0.03,"y":0.015},{"x":0.031,"y":0.011},{"x":0.0315,"y":0.02},{"x":0.032,"y":0.03},{"x":0.0325,"y":0.015},{"x":0.033,"y":0.001},{"x":0.0335,"y":0.015},{"x":0.0345,"y":0.001},{"x":0.035,"y":0.011},{"x":0.0355,"y":0.02},{"x":0.036,"y":0.001},{"x":0.0365,"y":0.015},{"x":0.0375,"y":0.001},{"x":0.038,"y":0.015},{"x":0.0385,"y":0.02},{"x":0.039,"y":0.001},{"x":0.0395,"y":0.03},{"x":0.04,"y":0.015},{"x":0.0405,"y":0.001},{"x":0.041,"y":0.02},{"x":0.042,"y":0.001},{"x":0.0425,"y":0.02},{"x":0.043,"y":0.001},{"x":0.044,"y":0.02},{"x":0.0445,"y":0.001}],
"d5v":[{"x":-0.00025,"y":0.001},{"x":0,"y":0.1},{"x":0.00025,"y":7},{"x":0.0005,"y":40},{"x":0.00075,"y":120},{"x":0.001,"y":220},{"x":0.00125,"y":330},{"x":0.0015,"y":350},{"x":0.00175,"y":280},{"x":0.002,"y":220},{"x":0.0025,"y":150},{"x":0.003,"y":125},{"x":0.0035,"y":110},{"x":0.004,"y":95},{"x":0.0045,"y":70},{"x":0.005,"y":55},{"x":0.0055,"y":45},{"x":0.006,"y":38},{"x":0.0065,"y":32},{"x":0.007,"y":27},{"x":0.0075,"y":22},{"x":0.008,"y":18},{"x":0.0085,"y":15},{"x":0.009,"y":12.5},{"x":0.0095,"y":10},{"x":0.01,"y":8.5},{"x":0.0105,"y":7},{"x":0.011,"y":5.8},{"x":0.0115,"y":4.8},{"x":0.012,"y":3.8},{"x":0.0125,"y":3},{"x":0.013,"y":2.6},{"x":0.0135,"y":2.2},{"x":0.014,"y":2},{"x":0.0145,"y":1.6},{"x":0.015,"y":1.2},{"x":0.0155,"y":1},{"x":0.016,"y":1},{"x":0.0165,"y":0.9},{"x":0.017,"y":0.85},{"x":0.0175,"y":0.7},{"x":0.018,"y":0.6},{"x":0.0185,"y":0.45},{"x":0.019,"y":0.4},{"x":0.0195,"y":0.42},{"x":0.02,"y":0.3},{"x":0.0205,"y":0.28},{"x":0.021,"y":0.3},{"x":0.0215,"y":0.2},{"x":0.022,"y":0.12},{"x":0.0225,"y":0.1},{"x":0.023,"y":0.08},{"x":0.0235,"y":0.09},{"x":0.024,"y":0.05},{"x":0.0245,"y":0.08},{"x":0.025,"y":0.06},{"x":0.0255,"y":0.03},{"x":0.026,"y":0.05},{"x":0.0265,"y":0.04},{"x":0.027,"y":0.03},{"x":0.0275,"y":0.05},{"x":0.028,"y":0.03},{"x":0.029,"y":0.03},{"x":0.0295,"y":0.02},{"x":0.03,"y":0.015},{"x":0.031,"y":0.011},{"x":0.0315,"y":0.02},{"x":0.032,"y":0.03},{"x":0.0325,"y":0.015},{"x":0.033,"y":0.02},{"x":0.034,"y":0.015},{"x":0.035,"y":0.011},{"x":0.0355,"y":0.015},{"x":0.0365,"y":0.02},{"x":0.037,"y":0.015},{"x":0.0385,"y":0.02},{"x":0.039,"y":0.011},{"x":0.0405,"y":0.02},{"x":0.041,"y":0.011},{"x":0.0425,"y":0.02},{"x":0.043,"y":0.011},{"x":0.0445,"y":0.02},{"x":0.045,"y":0.011},{"x":0.0465,"y":0.02},{"x":0.047,"y":0.011},{"x":0.049,"y":0.02},{"x":0.0495,"y":0.001}],
"d5e":[{"x":-0.00025,"y":0.001},{"x":0,"y":0.2},{"x":0.00025,"y":7},{"x":0.0005,"y":45},{"x":0.00075,"y":160},{"x":0.001,"y":280},{"x":0.00125,"y":350},{"x":0.0015,"y":360},{"x":0.00175,"y":290},{"x":0.002,"y":220},{"x":0.0025,"y":150},{"x":0.003,"y":120},{"x":0.0035,"y":105},{"x":0.004,"y":90},{"x":0.0045,"y":60},{"x":0.005,"y":45},{"x":0.0055,"y":35},{"x":0.006,"y":28},{"x":0.0065,"y":23},{"x":0.007,"y":17},{"x":0.0075,"y":13},{"x":0.008,"y":10},{"x":0.0085,"y":8.5},{"x":0.009,"y":7},{"x":0.0095,"y":6},{"x":0.01,"y":5.3},{"x":0.0105,"y":4.6},{"x":0.011,"y":3.8},{"x":0.0115,"y":3.3},{"x":0.012,"y":2.8},{"x":0.0125,"y":2.2},{"x":0.013,"y":1.8},{"x":0.0135,"y":1.6},{"x":0.014,"y":1.3},{"x":0.0145,"y":1.1},{"x":0.015,"y":0.95},{"x":0.0155,"y":0.95},{"x":0.016,"y":0.9},{"x":0.0165,"y":0.85},{"x":0.017,"y":0.75},{"x":0.0175,"y":0.7},{"x":0.018,"y":0.55},{"x":0.0185,"y":0.6},{"x":0.019,"y":0.65},{"x":0.0195,"y":0.6},{"x":0.02,"y":0.55},{"x":0.0205,"y":0.6},{"x":0.021,"y":0.45},{"x":0.0215,"y":0.35},{"x":0.022,"y":0.32},{"x":0.0225,"y":0.28},{"x":0.023,"y":0.3},{"x":0.0235,"y":0.15},{"x":0.024,"y":0.2},{"x":0.0245,"y":0.12},{"x":0.025,"y":0.1},{"x":0.0255,"y":0.2},{"x":0.026,"y":0.08},{"x":0.0265,"y":0.09},{"x":0.027,"y":0.2},{"x":0.0275,"y":0.08},{"x":0.028,"y":0.1},{"x":0.029,"y":0.08},{"x":0.0295,"y":0.1},{"x":0.03,"y":0.09},{"x":0.0305,"y":0.06},{"x":0.031,"y":0.1},{"x":0.0315,"y":0.06},{"x":0.032,"y":0.04},{"x":0.033,"y":0.03},{"x":0.0335,"y":0.1},{"x":0.034,"y":0.03},{"x":0.0345,"y":0.06},{"x":0.035,"y":0.03},{"x":0.036,"y":0.02},{"x":0.0365,"y":0.04},{"x":0.037,"y":0.05},{"x":0.0375,"y":0.02},{"x":0.038,"y":0.03},{"x":0.039,"y":0.015},{"x":0.0395,"y":0.03},{"x":0.04,"y":0.02},{"x":0.0405,"y":0.04},{"x":0.041,"y":0.02},{"x":0.0425,"y":0.011},{"x":0.043,"y":0.02},{"x":0.045,"y":0.011},{"x":0.0455,"y":0.02},{"x":0.047,"y":0.011},{"x":0.048,"y":0.02},{"x":0.049,"y":0.015},{"x":0.0495,"y":0.001}],
"d6t":[{"x":0,"y":0.001},{"x":0.00025,"y":0.04},{"x":0.0005,"y":0.35},{"x":0.00075,"y":1.5},{"x":0.001,"y":4.5},{"x":0.00125,"y":12},{"x":0.0015,"y":20},{"x":0.002,"y":45},{"x":0.0025,"y":75},{"x":0.003,"y":110},{"x":0.0035,"y":145},{"x":0.004,"y":165},{"x":0.0045,"y":168},{"x":0.005,"y":168},{"x":0.0055,"y":160},{"x":0.006,"y":150},{"x":0.0065,"y":130},{"x":0.007,"y":110},{"x":0.0075,"y":90},{"x":0.008,"y":72},{"x":0.0085,"y":55},{"x":0.009,"y":42},{"x":0.0095,"y":30},{"x":0.01,"y":22},{"x":0.0105,"y":16},{"x":0.011,"y":13},{"x":0.0115,"y":11.5},{"x":0.012,"y":10.5},{"x":0.0125,"y":9.5},{"x":0.013,"y":8},{"x":0.0135,"y":6.8},{"x":0.014,"y":5.8},{"x":0.0145,"y":5},{"x":0.015,"y":4.4},{"x":0.0155,"y":3.9},{"x":0.016,"y":3.4},{"x":0.0165,"y":3},{"x":0.017,"y":2.6},{"x":0.0175,"y":2.2},{"x":0.018,"y":1.9},{"x":0.0185,"y":1.7},{"x":0.019,"y":1.6},{"x":0.0195,"y":1.3},{"x":0.02,"y":1.1},{"x":0.0205,"y":0.9},{"x":0.021,"y":0.75},{"x":0.0215,"y":0.6},{"x":0.022,"y":0.5},{"x":0.0225,"y":0.4},{"x":0.023,"y":0.35},{"x":0.0235,"y":0.3},{"x":0.024,"y":0.25},{"x":0.0245,"y":0.2},{"x":0.025,"y":0.17},{"x":0.0255,"y":0.14},{"x":0.026,"y":0.12},{"x":0.0265,"y":0.1},{"x":0.027,"y":0.09},{"x":0.0275,"y":0.1},{"x":0.028,"y":0.07},{"x":0.0285,"y":0.1},{"x":0.029,"y":0.05},{"x":0.0295,"y":0.08},{"x":0.03,"y":0.06},{"x":0.0305,"y":0.05},{"x":0.0315,"y":0.1},{"x":0.032,"y":0.04},{"x":0.0325,"y":0.03},{"x":0.033,"y":0.05},{"x":0.0335,"y":0.04},{"x":0.034,"y":0.07},{"x":0.0345,"y":0.1},{"x":0.035,"y":0.06},{"x":0.0355,"y":0.1},{"x":0.036,"y":0.05},{"x":0.0365,"y":0.04},{"x":0.037,"y":0.06},{"x":0.0375,"y":0.03},{"x":0.038,"y":0.05},{"x":0.039,"y":0.02},{"x":0.0395,"y":0.04},{"x":0.04,"y":0.03},{"x":0.041,"y":0.02},{"x":0.0415,"y":0.04},{"x":0.042,"y":0.02},{"x":0.043,"y":0.03},{"x":0.044,"y":0.02},{"x":0.045,"y":0.015},{"x":0.0455,"y":0.03},{"x":0.046,"y":0.02},{"x":0.047,"y":0.011},{"x":0.0475,"y":0.02},{"x":0.048,"y":0.015},{"x":0.0485,"y":0.025},{"x":0.049,"y":0.001}],
"d6v":[{"x":0,"y":0.001},{"x":0.00025,"y":0.1},{"x":0.0005,"y":1.3},{"x":0.00075,"y":4},{"x":0.001,"y":11},{"x":0.00125,"y":18},{"x":0.0015,"y":25},{"x":0.002,"y":48},{"x":0.0025,"y":80},{"x":0.003,"y":110},{"x":0.0035,"y":140},{"x":0.004,"y":158},{"x":0.0045,"y":165},{"x":0.005,"y":167},{"x":0.0055,"y":166},{"x":0.006,"y":160},{"x":0.0065,"y":145},{"x":0.007,"y":125},{"x":0.0075,"y":100},{"x":0.008,"y":80},{"x":0.0085,"y":62},{"x":0.009,"y":48},{"x":0.0095,"y":36},{"x":0.01,"y":27},{"x":0.0105,"y":20},{"x":0.011,"y":16},{"x":0.0115,"y":14},{"x":0.012,"y":12},{"x":0.0125,"y":10.5},{"x":0.013,"y":9.5},{"x":0.0135,"y":8.5},{"x":0.014,"y":7.5},{"x":0.0145,"y":6.8},{"x":0.015,"y":6.2},{"x":0.0155,"y":5.7},{"x":0.016,"y":5.3},{"x":0.0165,"y":5},{"x":0.017,"y":4.8},{"x":0.0175,"y":4.5},{"x":0.018,"y":4.2},{"x":0.0185,"y":4},{"x":0.019,"y":3.7},{"x":0.0195,"y":3.4},{"x":0.02,"y":3.2},{"x":0.0205,"y":2.9},{"x":0.021,"y":2.8},{"x":0.0215,"y":2.5},{"x":0.022,"y":2.2},{"x":0.0225,"y":2},{"x":0.023,"y":1.8},{"x":0.0235,"y":1.6},{"x":0.024,"y":1.4},{"x":0.0245,"y":1.2},{"x":0.025,"y":1.05},{"x":0.0255,"y":0.95},{"x":0.026,"y":0.9},{"x":0.0265,"y":0.8},{"x":0.027,"y":0.65},{"x":0.0275,"y":0.55},{"x":0.028,"y":0.45},{"x":0.0285,"y":0.35},{"x":0.029,"y":0.28},{"x":0.0295,"y":0.22},{"x":0.03,"y":0.2},{"x":0.0305,"y":0.18},{"x":0.031,"y":0.2},{"x":0.0315,"y":0.15},{"x":0.032,"y":0.14},{"x":0.0325,"y":0.15},{"x":0.033,"y":0.1},{"x":0.0335,"y":0.08},{"x":0.034,"y":0.1},{"x":0.0345,"y":0.07},{"x":0.035,"y":0.06},{"x":0.0355,"y":0.05},{"x":0.036,"y":0.06},{"x":0.0365,"y":0.04},{"x":0.037,"y":0.03},{"x":0.0375,"y":0.05},{"x":0.038,"y":0.06},{"x":0.0385,"y":0.03},{"x":0.039,"y":0.04},{"x":0.0395,"y":0.03},{"x":0.04,"y":0.05},{"x":0.0405,"y":0.02},{"x":0.041,"y":0.03},{"x":0.0415,"y":0.02},{"x":0.042,"y":0.03},{"x":0.043,"y":0.04},{"x":0.0435,"y":0.02},{"x":0.044,"y":0.1},{"x":0.0445,"y":0.02},{"x":0.045,"y":0.03},{"x":0.0455,"y":0.015},{"x":0.046,"y":0.03},{"x":0.0465,"y":0.02},{"x":0.0475,"y":0.07},{"x":0.048,"y":0.02},{"x":0.0485,"y":0.001}],
"d6e":[{"x":0,"y":0.001},{"x":0.00025,"y":0.02},{"x":0.0005,"y":1},{"x":0.00075,"y":3.5},{"x":0.001,"y":9},{"x":0.00125,"y":15},{"x":0.0015,"y":22},{"x":0.002,"y":40},{"x":0.0025,"y":65},{"x":0.003,"y":95},{"x":0.0035,"y":125},{"x":0.004,"y":150},{"x":0.0045,"y":170},{"x":0.005,"y":183},{"x":0.0055,"y":185},{"x":0.006,"y":180},{"x":0.0065,"y":165},{"x":0.007,"y":140},{"x":0.0075,"y":110},{"x":0.008,"y":85},{"x":0.0085,"y":62},{"x":0.009,"y":45},{"x":0.0095,"y":32},{"x":0.01,"y":23},{"x":0.0105,"y":17},{"x":0.011,"y":13},{"x":0.0115,"y":10.5},{"x":0.012,"y":9},{"x":0.0125,"y":7.5},{"x":0.013,"y":6.5},{"x":0.0135,"y":5.8},{"x":0.014,"y":5.2},{"x":0.0145,"y":4.7},{"x":0.015,"y":4.3},{"x":0.0155,"y":4},{"x":0.016,"y":3.7},{"x":0.0165,"y":3.4},{"x":0.017,"y":3.2},{"x":0.0175,"y":3},{"x":0.018,"y":2.8},{"x":0.0185,"y":2.6},{"x":0.019,"y":2.4},{"x":0.0195,"y":2.3},{"x":0.02,"y":2.2},{"x":0.0205,"y":2.1},{"x":0.021,"y":2},{"x":0.0215,"y":1.9},{"x":0.022,"y":1.8},{"x":0.0225,"y":1.6},{"x":0.023,"y":1.4},{"x":0.0235,"y":1.1},{"x":0.024,"y":0.85},{"x":0.0245,"y":1},{"x":0.025,"y":0.95},{"x":0.0255,"y":0.9},{"x":0.026,"y":0.85},{"x":0.0265,"y":0.75},{"x":0.027,"y":0.65},{"x":0.0275,"y":0.5},{"x":0.028,"y":0.4},{"x":0.0285,"y":0.3},{"x":0.029,"y":0.25},{"x":0.0295,"y":0.22},{"x":0.03,"y":0.2},{"x":0.0305,"y":0.18},{"x":0.031,"y":0.2},{"x":0.0315,"y":0.15},{"x":0.032,"y":0.13},{"x":0.0325,"y":0.1},{"x":0.033,"y":0.12},{"x":0.0335,"y":0.08},{"x":0.034,"y":0.06},{"x":0.0345,"y":0.05},{"x":0.035,"y":0.04},{"x":0.0355,"y":0.06},{"x":0.036,"y":0.04},{"x":0.0365,"y":0.03},{"x":0.037,"y":0.05},{"x":0.0375,"y":0.03},{"x":0.038,"y":0.02},{"x":0.0385,"y":0.03},{"x":0.039,"y":0.001},{"x":0.0395,"y":0.02},{"x":0.04,"y":0.03},{"x":0.041,"y":0.02},{"x":0.0415,"y":0.03},{"x":0.042,"y":0.015},{"x":0.043,"y":0.011},{"x":0.0435,"y":0.02},{"x":0.044,"y":0.015},{"x":0.0445,"y":0.03},{"x":0.045,"y":0.015},{"x":0.046,"y":0.011},{"x":0.0465,"y":0.015},{"x":0.047,"y":0.02},{"x":0.0475,"y":0.011},{"x":0.048,"y":0.015},{"x":0.0485,"y":0.02},{"x":0.049,"y":0.001}],
"d7t":[{"x":0,"y":0.001},{"x":0.00025,"y":1.1},{"x":0.0005,"y":20},{"x":0.00075,"y":35},{"x":0.001,"y":100},{"x":0.00125,"y":170},{"x":0.0015,"y":210},{"x":0.00175,"y":230},{"x":0.002,"y":250},{"x":0.00225,"y":200},{"x":0.0025,"y":230},{"x":0.00275,"y":240},{"x":0.003,"y":300},{"x":0.00325,"y":380},{"x":0.0035,"y":430},{"x":0.00375,"y":430},{"x":0.004,"y":420},{"x":0.00425,"y":360},{"x":0.0045,"y":230},{"x":0.00475,"y":130},{"x":0.005,"y":60},{"x":0.00525,"y":25},{"x":0.0055,"y":18},{"x":0.006,"y":14},{"x":0.0065,"y":12},{"x":0.00675,"y":8},{"x":0.007,"y":5.5},{"x":0.0073,"y":6.5},{"x":0.0076,"y":4},{"x":0.0079,"y":3},{"x":0.0082,"y":2},{"x":0.0085,"y":1.15},{"x":0.0095,"y":0.37},{"x":0.01,"y":0.75},{"x":0.0105,"y":0.37},{"x":0.011,"y":0.001},{"x":0.0113,"y":0.75},{"x":0.0118,"y":0.37},{"x":0.012,"y":0.001},{"x":0.0125,"y":0.37},{"x":0.013,"y":0.75},{"x":0.0135,"y":0.001},{"x":0.0155,"y":0.37},{"x":0.016,"y":0.75},{"x":0.0165,"y":0.37},{"x":0.017,"y":0.001},{"x":0.0175,"y":0.37},{"x":0.018,"y":0.75},{"x":0.0185,"y":0.37},{"x":0.019,"y":0.75},{"x":0.0195,"y":0.001},{"x":0.02,"y":0.37},{"x":0.0205,"y":0.001},{"x":0.0245,"y":0.37},{"x":0.025,"y":0.001},{"x":0.027,"y":0.37},{"x":0.028,"y":0.001},{"x":0.0285,"y":0.37},{"x":0.029,"y":0.001},{"x":0.0295,"y":0.37},{"x":0.0305,"y":0.001},{"x":0.0315,"y":0.75},{"x":0.032,"y":1.1},{"x":0.0325,"y":0.37},{"x":0.033,"y":0.001},{"x":0.0345,"y":0.37},{"x":0.035,"y":0.001},{"x":0.036,"y":0.37},{"x":0.0365,"y":0.001},{"x":0.037,"y":0.37},{"x":0.0375,"y":0.001},{"x":0.0385,"y":0.75},{"x":0.039,"y":0.001},{"x":0.0395,"y":0.37},{"x":0.04,"y":0.001},{"x":0.0475,"y":0.37},{"x":0.048,"y":0.001}],
"d7v":[{"x":0,"y":0.001},{"x":0.00025,"y":1.9},{"x":0.0005,"y":10},{"x":0.00075,"y":40},{"x":0.001,"y":120},{"x":0.00125,"y":220},{"x":0.0015,"y":330},{"x":0.00175,"y":380},{"x":0.002,"y":380},{"x":0.0025,"y":370},{"x":0.00275,"y":320},{"x":0.003,"y":260},{"x":0.0035,"y":220},{"x":0.004,"y":150},{"x":0.0045,"y":75},{"x":0.005,"y":50},{"x":0.0055,"y":45},{"x":0.006,"y":48},{"x":0.0065,"y":45},{"x":0.007,"y":46},{"x":0.0075,"y":35},{"x":0.008,"y":27},{"x":0.0085,"y":20},{"x":0.009,"y":14},{"x":0.0095,"y":10.5},{"x":0.01,"y":8.5},{"x":0.0105,"y":7.5},{"x":0.011,"y":5},{"x":0.0115,"y":4},{"x":0.012,"y":3},{"x":0.0125,"y":2.6},{"x":0.013,"y":1.6},{"x":0.0135,"y":1.2},{"x":0.014,"y":1},{"x":0.0145,"y":0.6},{"x":0.015,"y":1},{"x":0.0155,"y":0.8},{"x":0.016,"y":1.2},{"x":0.0165,"y":0.5},{"x":0.017,"y":1},{"x":0.0175,"y":0.55},{"x":0.018,"y":0.3},{"x":0.0185,"y":0.6},{"x":0.019,"y":0.38},{"x":0.0195,"y":0.75},{"x":0.02,"y":0.38},{"x":0.0205,"y":0.1},{"x":0.021,"y":0.19},{"x":0.0215,"y":0.1},{"x":0.0225,"y":0.28},{"x":0.023,"y":0.1},{"x":0.0235,"y":0.001},{"x":0.024,"y":0.1},{"x":0.025,"y":0.19},{"x":0.0255,"y":0.1},{"x":0.026,"y":0.001},{"x":0.0265,"y":0.1},{"x":0.027,"y":0.19},{"x":0.0275,"y":0.1},{"x":0.028,"y":0.28},{"x":0.0285,"y":0.1},{"x":0.029,"y":0.001},{"x":0.0295,"y":0.1},{"x":0.031,"y":0.001},{"x":0.0315,"y":0.1},{"x":0.0335,"y":0.001},{"x":0.034,"y":0.1},{"x":0.0345,"y":0.19},{"x":0.035,"y":0.1},{"x":0.0355,"y":0.19},{"x":0.0365,"y":0.1},{"x":0.037,"y":0.001},{"x":0.038,"y":0.1},{"x":0.039,"y":0.19},{"x":0.0395,"y":0.1},{"x":0.0405,"y":0.19},{"x":0.041,"y":0.1},{"x":0.042,"y":0.19},{"x":0.0425,"y":0.1},{"x":0.043,"y":0.001},{"x":0.0435,"y":0.1},{"x":0.0445,"y":0.19},{"x":0.045,"y":0.1},{"x":0.046,"y":0.19},{"x":0.0465,"y":0.1},{"x":0.0475,"y":0.001},{"x":0.048,"y":0.1},{"x":0.05,"y":0.001}],
"d7e":[{"x":-0.00025,"y":0.001},{"x":0,"y":1.9},{"x":0.00025,"y":10},{"x":0.0005,"y":40},{"x":0.00075,"y":100},{"x":0.001,"y":200},{"x":0.00125,"y":260},{"x":0.0015,"y":300},{"x":0.00175,"y":340},{"x":0.002,"y":300},{"x":0.00225,"y":260},{"x":0.0025,"y":250},{"x":0.003,"y":245},{"x":0.0035,"y":250},{"x":0.004,"y":240},{"x":0.0045,"y":200},{"x":0.00475,"y":150},{"x":0.005,"y":110},{"x":0.00525,"y":80},{"x":0.0055,"y":50},{"x":0.006,"y":35},{"x":0.0065,"y":24},{"x":0.007,"y":18},{"x":0.0075,"y":13},{"x":0.008,"y":11.5},{"x":0.0085,"y":10},{"x":0.009,"y":8.5},{"x":0.0095,"y":7.5},{"x":0.01,"y":6},{"x":0.0105,"y":5},{"x":0.011,"y":3.6},{"x":0.0115,"y":3},{"x":0.012,"y":3},{"x":0.0125,"y":2.5},{"x":0.013,"y":1.5},{"x":0.0135,"y":1},{"x":0.014,"y":0.9},{"x":0.0145,"y":0.55},{"x":0.015,"y":0.75},{"x":0.0155,"y":0.75},{"x":0.016,"y":0.6},{"x":0.0165,"y":0.28},{"x":0.017,"y":0.38},{"x":0.0175,"y":0.14},{"x":0.018,"y":0.28},{"x":0.0185,"y":0.14},{"x":0.019,"y":0.28},{"x":0.0195,"y":0.5},{"x":0.02,"y":0.14},{"x":0.0205,"y":0.001},{"x":0.021,"y":0.14},{"x":0.022,"y":0.28},{"x":0.0225,"y":0.14},{"x":0.023,"y":0.001},{"x":0.0235,"y":0.14},{"x":0.0245,"y":0.001},{"x":0.025,"y":0.14},{"x":0.0255,"y":0.28},{"x":0.026,"y":0.14},{"x":0.027,"y":0.001},{"x":0.0275,"y":0.14},{"x":0.029,"y":0.001},{"x":0.0295,"y":0.14},{"x":0.0315,"y":0.001},{"x":0.032,"y":0.14},{"x":0.033,"y":0.001},{"x":0.0335,"y":0.14},{"x":0.0345,"y":0.28},{"x":0.035,"y":0.14},{"x":0.0355,"y":0.001},{"x":0.036,"y":0.14},{"x":0.037,"y":0.001},{"x":0.0375,"y":0.14},{"x":0.038,"y":0.001},{"x":0.0465,"y":0.14},{"x":0.047,"y":0.001},{"x":0.049,"y":0.14},{"x":0.0495,"y":0.001}],
"d8t":[{"x":0,"y":0.001},{"x":0.00025,"y":0.07},{"x":0.0005,"y":5},{"x":0.00075,"y":20},{"x":0.001,"y":100},{"x":0.00125,"y":200},{"x":0.0015,"y":320},{"x":0.00175,"y":420},{"x":0.002,"y":420},{"x":0.00225,"y":410},{"x":0.0025,"y":380},{"x":0.00275,"y":330},{"x":0.003,"y":280},{"x":0.00325,"y":220},{"x":0.0035,"y":170},{"x":0.00375,"y":100},{"x":0.004,"y":60},{"x":0.0045,"y":38},{"x":0.005,"y":31},{"x":0.0055,"y":27},{"x":0.006,"y":23},{"x":0.0065,"y":20},{"x":0.007,"y":18},{"x":0.0075,"y":16},{"x":0.008,"y":14},{"x":0.0085,"y":11},{"x":0.009,"y":8.5},{"x":0.0095,"y":6.5},{"x":0.01,"y":5.2},{"x":0.0105,"y":4.2},{"x":0.011,"y":3.4},{"x":0.0115,"y":2.8},{"x":0.012,"y":2.3},{"x":0.0125,"y":1.8},{"x":0.013,"y":1.5},{"x":0.0135,"y":1.1},{"x":0.014,"y":0.8},{"x":0.0145,"y":0.75},{"x":0.015,"y":0.8},{"x":0.0155,"y":0.55},{"x":0.016,"y":0.4},{"x":0.0165,"y":0.3},{"x":0.017,"y":0.22},{"x":0.0175,"y":0.2},{"x":0.018,"y":0.15},{"x":0.0185,"y":0.18},{"x":0.019,"y":0.12},{"x":0.0195,"y":0.04},{"x":0.02,"y":0.15},{"x":0.0205,"y":0.2},{"x":0.021,"y":0.16},{"x":0.0215,"y":0.08},{"x":0.022,"y":0.1},{"x":0.0225,"y":0.08},{"x":0.023,"y":0.06},{"x":0.0235,"y":0.05},{"x":0.024,"y":0.07},{"x":0.0245,"y":0.06},{"x":0.025,"y":0.08},{"x":0.0255,"y":0.06},{"x":0.026,"y":0.05},{"x":0.0265,"y":0.06},{"x":0.027,"y":0.05},{"x":0.0275,"y":0.04},{"x":0.028,"y":0.06},{"x":0.0285,"y":0.05},{"x":0.029,"y":0.02},{"x":0.0295,"y":0.001},{"x":0.03,"y":0.03},{"x":0.0305,"y":0.02},{"x":0.031,"y":0.001},{"x":0.032,"y":0.02},{"x":0.0325,"y":0.001},{"x":0.0335,"y":0.02},{"x":0.034,"y":0.03},{"x":0.0345,"y":0.001},{"x":0.0355,"y":0.02},{"x":0.036,"y":0.011},{"x":0.037,"y":0.001},{"x":0.0375,"y":0.02},{"x":0.038,"y":0.011},{"x":0.0385,"y":0.001},{"x":0.0395,"y":0.011},{"x":0.04,"y":0.001},{"x":0.041,"y":0.015},{"x":0.042,"y":0.02},{"x":0.0425,"y":0.03},{"x":0.043,"y":0.015},{"x":0.0435,"y":0.001},{"x":0.044,"y":0.015},{"x":0.0445,"y":0.02},{"x":0.045,"y":0.001},{"x":0.047,"y":0.02},{"x":0.0475,"y":0.001},{"x":0.048,"y":0.02},{"x":0.0485,"y":0.011},{"x":0.049,"y":0.001}],
"d8v":[{"x":0,"y":0.001},{"x":0.00025,"y":0.3},{"x":0.0005,"y":4},{"x":0.00075,"y":18},{"x":0.001,"y":80},{"x":0.00125,"y":200},{"x":0.0015,"y":320},{"x":0.00175,"y":380},{"x":0.002,"y":380},{"x":0.00225,"y":360},{"x":0.0025,"y":300},{"x":0.00275,"y":240},{"x":0.003,"y":190},{"x":0.00325,"y":130},{"x":0.0035,"y":90},{"x":0.00375,"y":60},{"x":0.004,"y":48},{"x":0.0045,"y":45},{"x":0.005,"y":45},{"x":0.0055,"y":46},{"x":0.006,"y":46},{"x":0.0065,"y":44},{"x":0.007,"y":42},{"x":0.0075,"y":40},{"x":0.008,"y":35},{"x":0.0085,"y":29},{"x":0.009,"y":23},{"x":0.0095,"y":18},{"x":0.01,"y":14.5},{"x":0.0105,"y":11},{"x":0.011,"y":9},{"x":0.0115,"y":7.5},{"x":0.012,"y":6},{"x":0.0125,"y":4.6},{"x":0.013,"y":3.6},{"x":0.0135,"y":3},{"x":0.014,"y":2.5},{"x":0.0145,"y":2.2},{"x":0.015,"y":2},{"x":0.0155,"y":1.6},{"x":0.016,"y":1.5},{"x":0.0165,"y":1.3},{"x":0.017,"y":1.2},{"x":0.0175,"y":1},{"x":0.018,"y":1.1},{"x":0.0185,"y":0.8},{"x":0.019,"y":0.75},{"x":0.0195,"y":0.85},{"x":0.02,"y":0.65},{"x":0.0205,"y":0.75},{"x":0.021,"y":0.65},{"x":0.0215,"y":0.55},{"x":0.022,"y":0.8},{"x":0.0225,"y":0.5},{"x":0.023,"y":0.3},{"x":0.0235,"y":0.28},{"x":0.024,"y":0.2},{"x":0.0245,"y":0.25},{"x":0.025,"y":0.18},{"x":0.0255,"y":0.15},{"x":0.026,"y":0.1},{"x":0.0265,"y":0.12},{"x":0.027,"y":0.06},{"x":0.0275,"y":0.04},{"x":0.028,"y":0.1},{"x":0.0285,"y":0.03},{"x":0.029,"y":0.02},{"x":0.0295,"y":0.05},{"x":0.03,"y":0.08},{"x":0.0305,"y":0.02},{"x":0.031,"y":0.011},{"x":0.0315,"y":0.03},{"x":0.032,"y":0.02},{"x":0.0325,"y":0.001},{"x":0.0335,"y":0.011},{"x":0.034,"y":0.001},{"x":0.035,"y":0.011},{"x":0.0355,"y":0.02},{"x":0.036,"y":0.001},{"x":0.037,"y":0.011},{"x":0.0375,"y":0.02},{"x":0.038,"y":0.001},{"x":0.0385,"y":0.011},{"x":0.039,"y":0.03},{"x":0.0395,"y":0.001},{"x":0.04,"y":0.02},{"x":0.0405,"y":0.001},{"x":0.041,"y":0.02},{"x":0.0415,"y":0.001},{"x":0.042,"y":0.02},{"x":0.0425,"y":0.001},{"x":0.0435,"y":0.02},{"x":0.044,"y":0.011},{"x":0.0445,"y":0.02},{"x":0.045,"y":0.001},{"x":0.0475,"y":0.02},{"x":0.048,"y":0.001},{"x":0.0485,"y":0.02},{"x":0.049,"y":0.001}],
"d8e":[{"x":-0.00025,"y":0.001},{"x":0,"y":0.1},{"x":0.00025,"y":0.3},{"x":0.0005,"y":5},{"x":0.00075,"y":20},{"x":0.001,"y":110},{"x":0.00125,"y":250},{"x":0.0015,"y":400},{"x":0.00175,"y":450},{"x":0.002,"y":440},{"x":0.00225,"y":350},{"x":0.0025,"y":230},{"x":0.00275,"y":160},{"x":0.003,"y":110},{"x":0.0035,"y":55},{"x":0.004,"y":38},{"x":0.0045,"y":35},{"x":0.005,"y":37},{"x":0.0055,"y":37},{"x":0.006,"y":36},{"x":0.0065,"y":34},{"x":0.007,"y":30},{"x":0.0075,"y":27},{"x":0.008,"y":23},{"x":0.0085,"y":19},{"x":0.009,"y":15},{"x":0.0095,"y":12},{"x":0.01,"y":9.5},{"x":0.0105,"y":8},{"x":0.011,"y":6.8},{"x":0.0115,"y":5.6},{"x":0.012,"y":4.8},{"x":0.0125,"y":4},{"x":0.013,"y":3.3},{"x":0.0135,"y":2.7},{"x":0.014,"y":2.3},{"x":0.0145,"y":2},{"x":0.015,"y":1.8},{"x":0.0155,"y":1.5},{"x":0.016,"y":1.3},{"x":0.0165,"y":1.2},{"x":0.017,"y":1},{"x":0.0175,"y":0.7},{"x":0.018,"y":0.8},{"x":0.0185,"y":0.9},{"x":0.019,"y":0.75},{"x":0.0195,"y":0.65},{"x":0.02,"y":0.45},{"x":0.0205,"y":0.45},{"x":0.021,"y":0.55},{"x":0.0215,"y":0.4},{"x":0.022,"y":0.25},{"x":0.0225,"y":0.2},{"x":0.023,"y":0.3},{"x":0.0235,"y":0.18},{"x":0.024,"y":0.12},{"x":0.0245,"y":0.15},{"x":0.025,"y":0.17},{"x":0.0255,"y":0.12},{"x":0.026,"y":0.1},{"x":0.0265,"y":0.08},{"x":0.027,"y":0.1},{"x":0.0275,"y":0.05},{"x":0.028,"y":0.1},{"x":0.0285,"y":0.14},{"x":0.029,"y":0.1},{"x":0.0295,"y":0.12},{"x":0.03,"y":0.1},{"x":0.0305,"y":0.12},{"x":0.031,"y":0.08},{"x":0.0315,"y":0.12},{"x":0.032,"y":0.14},{"x":0.0325,"y":0.1},{"x":0.033,"y":0.15},{"x":0.0335,"y":0.13},{"x":0.034,"y":0.04},{"x":0.0345,"y":0.02},{"x":0.035,"y":0.03},{"x":0.0355,"y":0.02},{"x":0.036,"y":0.03},{"x":0.0365,"y":0.011},{"x":0.0385,"y":0.001},{"x":0.0495,"y":0.011},{"x":0.05,"y":0.001}],
"d9t":[{"x":0,"y":0.001},{"x":0.00025,"y":0.7},{"x":0.0005,"y":2},{"x":0.00075,"y":5},{"x":0.001,"y":10},{"x":0.00125,"y":16},{"x":0.0015,"y":25},{"x":0.00175,"y":40},{"x":0.002,"y":75},{"x":0.00225,"y":105},{"x":0.0025,"y":120},{"x":0.003,"y":130},{"x":0.0035,"y":135},{"x":0.004,"y":135},{"x":0.0045,"y":128},{"x":0.005,"y":112},{"x":0.0055,"y":100},{"x":0.006,"y":106},{"x":0.0065,"y":113},{"x":0.007,"y":120},{"x":0.0075,"y":125},{"x":0.008,"y":128},{"x":0.0085,"y":124},{"x":0.009,"y":113},{"x":0.0095,"y":98},{"x":0.01,"y":82},{"x":0.0105,"y":63},{"x":0.011,"y":47},{"x":0.0115,"y":35},{"x":0.012,"y":27},{"x":0.0125,"y":20},{"x":0.013,"y":15.5},{"x":0.0135,"y":12},{"x":0.014,"y":9.5},{"x":0.0145,"y":7.8},{"x":0.015,"y":6.3},{"x":0.0155,"y":5.1},{"x":0.016,"y":4.2},{"x":0.0165,"y":3.4},{"x":0.017,"y":2.8},{"x":0.0175,"y":2.3},{"x":0.018,"y":1.9},{"x":0.0185,"y":1.6},{"x":0.019,"y":1.3},{"x":0.0195,"y":1.1},{"x":0.02,"y":0.95},{"x":0.0205,"y":0.8},{"x":0.021,"y":0.6},{"x":0.0215,"y":0.6},{"x":0.022,"y":0.5},{"x":0.0225,"y":0.55},{"x":0.023,"y":0.42},{"x":0.0235,"y":0.35},{"x":0.024,"y":0.38},{"x":0.0245,"y":0.28},{"x":0.025,"y":0.15},{"x":0.0255,"y":0.12},{"x":0.026,"y":0.1},{"x":0.0265,"y":0.06},{"x":0.027,"y":0.1},{"x":0.0275,"y":0.08},{"x":0.028,"y":0.1},{"x":0.0285,"y":0.06},{"x":0.029,"y":0.09},{"x":0.0295,"y":0.04},{"x":0.03,"y":0.08},{"x":0.0305,"y":0.07},{"x":0.031,"y":0.05},{"x":0.0315,"y":0.09},{"x":0.032,"y":0.06},{"x":0.0325,"y":0.07},{"x":0.033,"y":0.04},{"x":0.0335,"y":0.05},{"x":0.034,"y":0.03},{"x":0.0345,"y":0.02},{"x":0.035,"y":0.001},{"x":0.0355,"y":0.03},{"x":0.036,"y":0.02},{"x":0.0365,"y":0.04},{"x":0.037,"y":0.02},{"x":0.0375,"y":0.03},{"x":0.038,"y":0.001},{"x":0.0385,"y":0.02},{"x":0.039,"y":0.015},{"x":0.0395,"y":0.02},{"x":0.04,"y":0.011},{"x":0.0405,"y":0.001},{"x":0.041,"y":0.015},{"x":0.0415,"y":0.02},{"x":0.042,"y":0.015},{"x":0.0425,"y":0.011},{"x":0.043,"y":0.015},{"x":0.0435,"y":0.02},{"x":0.044,"y":0.015},{"x":0.0445,"y":0.011},{"x":0.045,"y":0.02},{"x":0.0455,"y":0.015},{"x":0.046,"y":0.02},{"x":0.0465,"y":0.001}],
"d9v":[{"x":-0.00025,"y":0.001},{"x":0,"y":0.07},{"x":0.00025,"y":0.6},{"x":0.0005,"y":2.2},{"x":0.00075,"y":5},{"x":0.001,"y":10},{"x":0.00125,"y":15},{"x":0.0015,"y":24},{"x":0.00175,"y":35},{"x":0.002,"y":50},{"x":0.00225,"y":65},{"x":0.0025,"y":78},{"x":0.003,"y":86},{"x":0.0035,"y":90},{"x":0.004,"y":93},{"x":0.0045,"y":95},{"x":0.005,"y":98},{"x":0.0055,"y":105},{"x":0.006,"y":110},{"x":0.0065,"y":118},{"x":0.007,"y":128},{"x":0.0075,"y":137},{"x":0.008,"y":142},{"x":0.0085,"y":140},{"x":0.009,"y":130},{"x":0.0095,"y":112},{"x":0.01,"y":92},{"x":0.0105,"y":72},{"x":0.011,"y":56},{"x":0.0115,"y":43},{"x":0.012,"y":34},{"x":0.0125,"y":26},{"x":0.013,"y":21},{"x":0.0135,"y":16.5},{"x":0.014,"y":13.5},{"x":0.0145,"y":11},{"x":0.015,"y":9.2},{"x":0.0155,"y":7.6},{"x":0.016,"y":6.4},{"x":0.0165,"y":5.3},{"x":0.017,"y":4.4},{"x":0.0175,"y":3.6},{"x":0.018,"y":3},{"x":0.0185,"y":2.4},{"x":0.019,"y":2},{"x":0.0195,"y":1.6},{"x":0.02,"y":1.3},{"x":0.0205,"y":1.2},{"x":0.021,"y":1.15},{"x":0.0215,"y":1.15},{"x":0.022,"y":1},{"x":0.0225,"y":0.95},{"x":0.023,"y":0.75},{"x":0.0235,"y":0.55},{"x":0.024,"y":0.6},{"x":0.0245,"y":0.45},{"x":0.025,"y":0.38},{"x":0.0255,"y":0.45},{"x":0.026,"y":0.3},{"x":0.0265,"y":0.28},{"x":0.027,"y":0.35},{"x":0.0275,"y":0.2},{"x":0.028,"y":0.1},{"x":0.0285,"y":0.12},{"x":0.029,"y":0.14},{"x":0.0295,"y":0.1},{"x":0.03,"y":0.09},{"x":0.0305,"y":0.12},{"x":0.031,"y":0.1},{"x":0.0315,"y":0.09},{"x":0.032,"y":0.07},{"x":0.0325,"y":0.05},{"x":0.033,"y":0.08},{"x":0.0335,"y":0.07},{"x":0.034,"y":0.04},{"x":0.0345,"y":0.03},{"x":0.035,"y":0.02},{"x":0.0355,"y":0.03},{"x":0.036,"y":0.05},{"x":0.0365,"y":0.1},{"x":0.037,"y":0.08},{"x":0.0375,"y":0.05},{"x":0.038,"y":0.07},{"x":0.0385,"y":0.1},{"x":0.039,"y":0.05},{"x":0.0395,"y":0.02},{"x":0.04,"y":0.04},{"x":0.0405,"y":0.02},{"x":0.041,"y":0.03},{"x":0.0415,"y":0.04},{"x":0.042,"y":0.02},{"x":0.0425,"y":0.015},{"x":0.043,"y":0.03},{"x":0.0435,"y":0.02},{"x":0.044,"y":0.015},{"x":0.0445,"y":0.02},{"x":0.045,"y":0.015},{"x":0.0455,"y":0.011},{"x":0.046,"y":0.015},{"x":0.0465,"y":0.02},{"x":0.047,"y":0.011},{"x":0.0475,"y":0.025},{"x":0.048,"y":0.015},{"x":0.0485,"y":0.025},{"x":0.049,"y":0.025},{"x":0.0495,"y":0.015},{"x":0.05,"y":0.001}],
"d9e":[{"x":-0.00025,"y":0.001},{"x":0,"y":0.02},{"x":0.00025,"y":0.4},{"x":0.0005,"y":2},{"x":0.00075,"y":5},{"x":0.001,"y":10},{"x":0.00125,"y":16},{"x":0.0015,"y":22},{"x":0.00175,"y":30},{"x":0.002,"y":38},{"x":0.0025,"y":45},{"x":0.003,"y":53},{"x":0.0035,"y":62},{"x":0.004,"y":72},{"x":0.0045,"y":82},{"x":0.005,"y":93},{"x":0.0055,"y":103},{"x":0.006,"y":115},{"x":0.0065,"y":126},{"x":0.007,"y":140},{"x":0.0075,"y":155},{"x":0.008,"y":163},{"x":0.0085,"y":160},{"x":0.009,"y":148},{"x":0.0095,"y":128},{"x":0.01,"y":105},{"x":0.0105,"y":83},{"x":0.011,"y":64},{"x":0.0115,"y":49},{"x":0.012,"y":38},{"x":0.0125,"y":29},{"x":0.013,"y":23},{"x":0.0135,"y":18},{"x":0.014,"y":14.5},{"x":0.0145,"y":11.5},{"x":0.015,"y":9.5},{"x":0.0155,"y":7.8},{"x":0.016,"y":6.3},{"x":0.0165,"y":5.2},{"x":0.017,"y":4.3},{"x":0.0175,"y":3.5},{"x":0.018,"y":2.9},{"x":0.0185,"y":2.3},{"x":0.019,"y":1.8},{"x":0.0195,"y":1.5},{"x":0.02,"y":1.3},{"x":0.0205,"y":1},{"x":0.021,"y":0.9},{"x":0.0215,"y":0.85},{"x":0.022,"y":0.8},{"x":0.0225,"y":0.75},{"x":0.023,"y":0.55},{"x":0.0235,"y":0.45},{"x":0.024,"y":0.4},{"x":0.0245,"y":0.35},{"x":0.025,"y":0.28},{"x":0.0255,"y":0.22},{"x":0.026,"y":0.25},{"x":0.0265,"y":0.2},{"x":0.027,"y":0.18},{"x":0.0275,"y":0.14},{"x":0.028,"y":0.1},{"x":0.0285,"y":0.07},{"x":0.029,"y":0.09},{"x":0.0295,"y":0.05},{"x":0.03,"y":0.06},{"x":0.0305,"y":0.04},{"x":0.031,"y":0.05},{"x":0.0315,"y":0.03},{"x":0.032,"y":0.015},{"x":0.0325,"y":0.02},{"x":0.033,"y":0.001},{"x":0.0335,"y":0.05},{"x":0.034,"y":0.06},{"x":0.0345,"y":0.02},{"x":0.035,"y":0.03},{"x":0.0355,"y":0.015},{"x":0.036,"y":0.02},{"x":0.0365,"y":0.04},{"x":0.037,"y":0.011},{"x":0.0375,"y":0.03},{"x":0.038,"y":0.02},{"x":0.0385,"y":0.001},{"x":0.039,"y":0.015},{"x":0.0395,"y":0.03},{"x":0.04,"y":0.02},{"x":0.0405,"y":0.03},{"x":0.041,"y":0.04},{"x":0.0415,"y":0.02},{"x":0.042,"y":0.015},{"x":0.0425,"y":0.001},{"x":0.043,"y":0.011},{"x":0.0435,"y":0.02},{"x":0.044,"y":0.015},{"x":0.0445,"y":0.02},{"x":0.045,"y":0.001},{"x":0.047,"y":0.015},{"x":0.0475,"y":0.02},{"x":0.048,"y":0.001}]
}
}
